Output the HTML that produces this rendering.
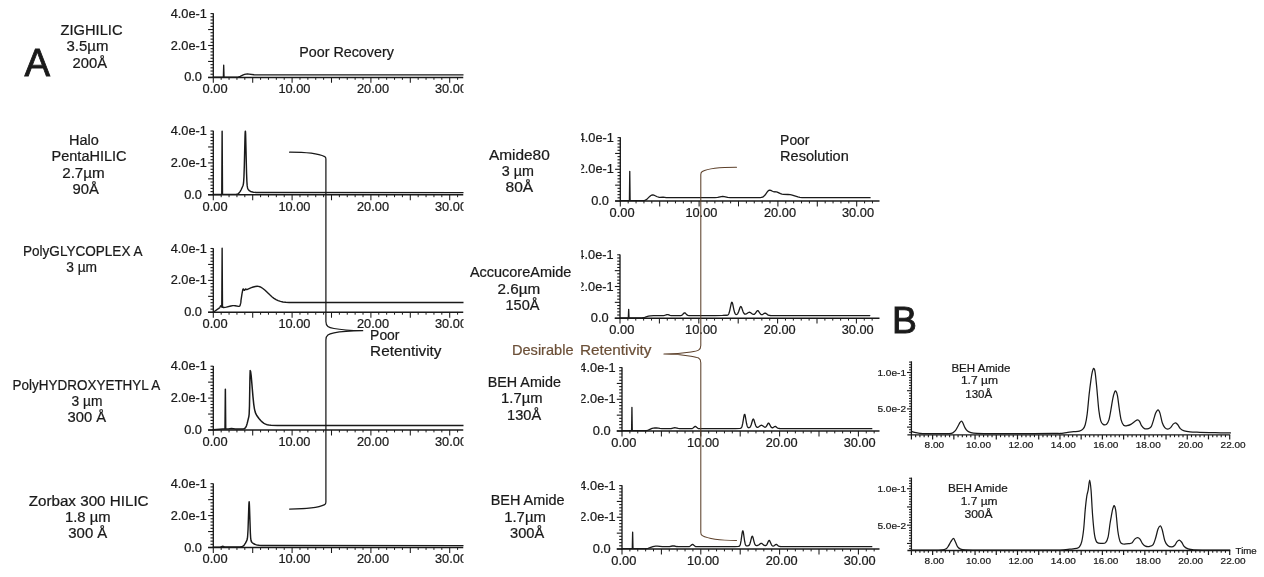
<!DOCTYPE html>
<html><head><meta charset="utf-8"><title>HILIC column comparison</title>
<style>html,body{margin:0;padding:0;background:#fff;}svg{display:block;will-change:transform;}text{font-family:"Liberation Sans",sans-serif;stroke-width:0.22px;}</style></head>
<body>
<svg width="1264" height="577" viewBox="0 0 1264 577" font-family="'Liberation Sans', sans-serif">
<rect width="1264" height="577" fill="#ffffff"/>
<defs><clipPath id="cl"><rect x="0" y="0" width="463.5" height="577"/></clipPath><clipPath id="cm"><rect x="581.3" y="0" width="300" height="577"/></clipPath></defs>
<g clip-path="url(#cl)">
<line x1="213.30" y1="13.30" x2="213.30" y2="77.90" stroke="#1a1a1a" stroke-width="1.35"/>
<line x1="208.10" y1="77.40" x2="463.50" y2="77.40" stroke="#1a1a1a" stroke-width="1.45"/>
<line x1="208.10" y1="77.40" x2="213.30" y2="77.40" stroke="#1a1a1a" stroke-width="1.1"/>
<line x1="210.50" y1="74.21" x2="213.30" y2="74.21" stroke="#1a1a1a" stroke-width="1.1"/>
<line x1="210.50" y1="71.02" x2="213.30" y2="71.02" stroke="#1a1a1a" stroke-width="1.1"/>
<line x1="210.50" y1="67.83" x2="213.30" y2="67.83" stroke="#1a1a1a" stroke-width="1.1"/>
<line x1="210.50" y1="64.64" x2="213.30" y2="64.64" stroke="#1a1a1a" stroke-width="1.1"/>
<line x1="208.10" y1="61.45" x2="213.30" y2="61.45" stroke="#1a1a1a" stroke-width="1.1"/>
<line x1="210.50" y1="58.26" x2="213.30" y2="58.26" stroke="#1a1a1a" stroke-width="1.1"/>
<line x1="210.50" y1="55.07" x2="213.30" y2="55.07" stroke="#1a1a1a" stroke-width="1.1"/>
<line x1="210.50" y1="51.88" x2="213.30" y2="51.88" stroke="#1a1a1a" stroke-width="1.1"/>
<line x1="210.50" y1="48.69" x2="213.30" y2="48.69" stroke="#1a1a1a" stroke-width="1.1"/>
<line x1="208.10" y1="45.50" x2="213.30" y2="45.50" stroke="#1a1a1a" stroke-width="1.1"/>
<line x1="210.50" y1="42.31" x2="213.30" y2="42.31" stroke="#1a1a1a" stroke-width="1.1"/>
<line x1="210.50" y1="39.12" x2="213.30" y2="39.12" stroke="#1a1a1a" stroke-width="1.1"/>
<line x1="210.50" y1="35.93" x2="213.30" y2="35.93" stroke="#1a1a1a" stroke-width="1.1"/>
<line x1="210.50" y1="32.74" x2="213.30" y2="32.74" stroke="#1a1a1a" stroke-width="1.1"/>
<line x1="208.10" y1="29.55" x2="213.30" y2="29.55" stroke="#1a1a1a" stroke-width="1.1"/>
<line x1="210.50" y1="26.36" x2="213.30" y2="26.36" stroke="#1a1a1a" stroke-width="1.1"/>
<line x1="210.50" y1="23.17" x2="213.30" y2="23.17" stroke="#1a1a1a" stroke-width="1.1"/>
<line x1="210.50" y1="19.98" x2="213.30" y2="19.98" stroke="#1a1a1a" stroke-width="1.1"/>
<line x1="210.50" y1="16.79" x2="213.30" y2="16.79" stroke="#1a1a1a" stroke-width="1.1"/>
<line x1="210.50" y1="13.60" x2="213.30" y2="13.60" stroke="#1a1a1a" stroke-width="1.1"/>
<line x1="213.30" y1="77.40" x2="213.30" y2="82.80" stroke="#1a1a1a" stroke-width="1.05"/>
<line x1="221.18" y1="77.40" x2="221.18" y2="79.80" stroke="#1a1a1a" stroke-width="1.0"/>
<line x1="229.06" y1="77.40" x2="229.06" y2="79.80" stroke="#1a1a1a" stroke-width="1.0"/>
<line x1="236.94" y1="77.40" x2="236.94" y2="79.80" stroke="#1a1a1a" stroke-width="1.0"/>
<line x1="244.82" y1="77.40" x2="244.82" y2="79.80" stroke="#1a1a1a" stroke-width="1.0"/>
<line x1="252.70" y1="77.40" x2="252.70" y2="82.80" stroke="#1a1a1a" stroke-width="1.05"/>
<line x1="260.58" y1="77.40" x2="260.58" y2="79.80" stroke="#1a1a1a" stroke-width="1.0"/>
<line x1="268.46" y1="77.40" x2="268.46" y2="79.80" stroke="#1a1a1a" stroke-width="1.0"/>
<line x1="276.34" y1="77.40" x2="276.34" y2="79.80" stroke="#1a1a1a" stroke-width="1.0"/>
<line x1="284.22" y1="77.40" x2="284.22" y2="79.80" stroke="#1a1a1a" stroke-width="1.0"/>
<line x1="292.10" y1="77.40" x2="292.10" y2="82.80" stroke="#1a1a1a" stroke-width="1.05"/>
<line x1="299.98" y1="77.40" x2="299.98" y2="79.80" stroke="#1a1a1a" stroke-width="1.0"/>
<line x1="307.86" y1="77.40" x2="307.86" y2="79.80" stroke="#1a1a1a" stroke-width="1.0"/>
<line x1="315.74" y1="77.40" x2="315.74" y2="79.80" stroke="#1a1a1a" stroke-width="1.0"/>
<line x1="323.62" y1="77.40" x2="323.62" y2="79.80" stroke="#1a1a1a" stroke-width="1.0"/>
<line x1="331.50" y1="77.40" x2="331.50" y2="82.80" stroke="#1a1a1a" stroke-width="1.05"/>
<line x1="339.38" y1="77.40" x2="339.38" y2="79.80" stroke="#1a1a1a" stroke-width="1.0"/>
<line x1="347.26" y1="77.40" x2="347.26" y2="79.80" stroke="#1a1a1a" stroke-width="1.0"/>
<line x1="355.14" y1="77.40" x2="355.14" y2="79.80" stroke="#1a1a1a" stroke-width="1.0"/>
<line x1="363.02" y1="77.40" x2="363.02" y2="79.80" stroke="#1a1a1a" stroke-width="1.0"/>
<line x1="370.90" y1="77.40" x2="370.90" y2="82.80" stroke="#1a1a1a" stroke-width="1.05"/>
<line x1="378.78" y1="77.40" x2="378.78" y2="79.80" stroke="#1a1a1a" stroke-width="1.0"/>
<line x1="386.66" y1="77.40" x2="386.66" y2="79.80" stroke="#1a1a1a" stroke-width="1.0"/>
<line x1="394.54" y1="77.40" x2="394.54" y2="79.80" stroke="#1a1a1a" stroke-width="1.0"/>
<line x1="402.42" y1="77.40" x2="402.42" y2="79.80" stroke="#1a1a1a" stroke-width="1.0"/>
<line x1="410.30" y1="77.40" x2="410.30" y2="82.80" stroke="#1a1a1a" stroke-width="1.05"/>
<line x1="418.18" y1="77.40" x2="418.18" y2="79.80" stroke="#1a1a1a" stroke-width="1.0"/>
<line x1="426.06" y1="77.40" x2="426.06" y2="79.80" stroke="#1a1a1a" stroke-width="1.0"/>
<line x1="433.94" y1="77.40" x2="433.94" y2="79.80" stroke="#1a1a1a" stroke-width="1.0"/>
<line x1="441.82" y1="77.40" x2="441.82" y2="79.80" stroke="#1a1a1a" stroke-width="1.0"/>
<line x1="449.70" y1="77.40" x2="449.70" y2="82.80" stroke="#1a1a1a" stroke-width="1.05"/>
<line x1="457.58" y1="77.40" x2="457.58" y2="79.80" stroke="#1a1a1a" stroke-width="1.0"/>
<text x="184.17" y="81.40" font-size="11.99" fill="#1a1a1a" stroke="#1a1a1a" textLength="17.83" lengthAdjust="spacingAndGlyphs">0.0</text>
<text x="170.69" y="49.50" font-size="11.99" fill="#1a1a1a" stroke="#1a1a1a" textLength="36.21" lengthAdjust="spacingAndGlyphs">2.0e-1</text>
<text x="170.69" y="17.60" font-size="11.99" fill="#1a1a1a" stroke="#1a1a1a" textLength="36.21" lengthAdjust="spacingAndGlyphs">4.0e-1</text>
<text x="202.60" y="93.20" font-size="11.88" fill="#1a1a1a" stroke="#1a1a1a" textLength="24.99" lengthAdjust="spacingAndGlyphs">0.00</text>
<text x="278.41" y="93.20" font-size="11.88" fill="#1a1a1a" stroke="#1a1a1a" textLength="31.99" lengthAdjust="spacingAndGlyphs">10.00</text>
<text x="357.01" y="93.20" font-size="11.88" fill="#1a1a1a" stroke="#1a1a1a" textLength="31.99" lengthAdjust="spacingAndGlyphs">20.00</text>
<text x="435.01" y="93.20" font-size="11.88" fill="#1a1a1a" stroke="#1a1a1a" textLength="31.99" lengthAdjust="spacingAndGlyphs">30.00</text>
</g>
<g clip-path="url(#cl)">
<line x1="213.30" y1="130.70" x2="213.30" y2="195.30" stroke="#1a1a1a" stroke-width="1.35"/>
<line x1="208.10" y1="194.80" x2="463.50" y2="194.80" stroke="#1a1a1a" stroke-width="1.45"/>
<line x1="208.10" y1="194.80" x2="213.30" y2="194.80" stroke="#1a1a1a" stroke-width="1.1"/>
<line x1="210.50" y1="191.61" x2="213.30" y2="191.61" stroke="#1a1a1a" stroke-width="1.1"/>
<line x1="210.50" y1="188.42" x2="213.30" y2="188.42" stroke="#1a1a1a" stroke-width="1.1"/>
<line x1="210.50" y1="185.23" x2="213.30" y2="185.23" stroke="#1a1a1a" stroke-width="1.1"/>
<line x1="210.50" y1="182.04" x2="213.30" y2="182.04" stroke="#1a1a1a" stroke-width="1.1"/>
<line x1="208.10" y1="178.85" x2="213.30" y2="178.85" stroke="#1a1a1a" stroke-width="1.1"/>
<line x1="210.50" y1="175.66" x2="213.30" y2="175.66" stroke="#1a1a1a" stroke-width="1.1"/>
<line x1="210.50" y1="172.47" x2="213.30" y2="172.47" stroke="#1a1a1a" stroke-width="1.1"/>
<line x1="210.50" y1="169.28" x2="213.30" y2="169.28" stroke="#1a1a1a" stroke-width="1.1"/>
<line x1="210.50" y1="166.09" x2="213.30" y2="166.09" stroke="#1a1a1a" stroke-width="1.1"/>
<line x1="208.10" y1="162.90" x2="213.30" y2="162.90" stroke="#1a1a1a" stroke-width="1.1"/>
<line x1="210.50" y1="159.71" x2="213.30" y2="159.71" stroke="#1a1a1a" stroke-width="1.1"/>
<line x1="210.50" y1="156.52" x2="213.30" y2="156.52" stroke="#1a1a1a" stroke-width="1.1"/>
<line x1="210.50" y1="153.33" x2="213.30" y2="153.33" stroke="#1a1a1a" stroke-width="1.1"/>
<line x1="210.50" y1="150.14" x2="213.30" y2="150.14" stroke="#1a1a1a" stroke-width="1.1"/>
<line x1="208.10" y1="146.95" x2="213.30" y2="146.95" stroke="#1a1a1a" stroke-width="1.1"/>
<line x1="210.50" y1="143.76" x2="213.30" y2="143.76" stroke="#1a1a1a" stroke-width="1.1"/>
<line x1="210.50" y1="140.57" x2="213.30" y2="140.57" stroke="#1a1a1a" stroke-width="1.1"/>
<line x1="210.50" y1="137.38" x2="213.30" y2="137.38" stroke="#1a1a1a" stroke-width="1.1"/>
<line x1="210.50" y1="134.19" x2="213.30" y2="134.19" stroke="#1a1a1a" stroke-width="1.1"/>
<line x1="210.50" y1="131.00" x2="213.30" y2="131.00" stroke="#1a1a1a" stroke-width="1.1"/>
<line x1="213.30" y1="194.80" x2="213.30" y2="200.20" stroke="#1a1a1a" stroke-width="1.05"/>
<line x1="221.18" y1="194.80" x2="221.18" y2="197.20" stroke="#1a1a1a" stroke-width="1.0"/>
<line x1="229.06" y1="194.80" x2="229.06" y2="197.20" stroke="#1a1a1a" stroke-width="1.0"/>
<line x1="236.94" y1="194.80" x2="236.94" y2="197.20" stroke="#1a1a1a" stroke-width="1.0"/>
<line x1="244.82" y1="194.80" x2="244.82" y2="197.20" stroke="#1a1a1a" stroke-width="1.0"/>
<line x1="252.70" y1="194.80" x2="252.70" y2="200.20" stroke="#1a1a1a" stroke-width="1.05"/>
<line x1="260.58" y1="194.80" x2="260.58" y2="197.20" stroke="#1a1a1a" stroke-width="1.0"/>
<line x1="268.46" y1="194.80" x2="268.46" y2="197.20" stroke="#1a1a1a" stroke-width="1.0"/>
<line x1="276.34" y1="194.80" x2="276.34" y2="197.20" stroke="#1a1a1a" stroke-width="1.0"/>
<line x1="284.22" y1="194.80" x2="284.22" y2="197.20" stroke="#1a1a1a" stroke-width="1.0"/>
<line x1="292.10" y1="194.80" x2="292.10" y2="200.20" stroke="#1a1a1a" stroke-width="1.05"/>
<line x1="299.98" y1="194.80" x2="299.98" y2="197.20" stroke="#1a1a1a" stroke-width="1.0"/>
<line x1="307.86" y1="194.80" x2="307.86" y2="197.20" stroke="#1a1a1a" stroke-width="1.0"/>
<line x1="315.74" y1="194.80" x2="315.74" y2="197.20" stroke="#1a1a1a" stroke-width="1.0"/>
<line x1="323.62" y1="194.80" x2="323.62" y2="197.20" stroke="#1a1a1a" stroke-width="1.0"/>
<line x1="331.50" y1="194.80" x2="331.50" y2="200.20" stroke="#1a1a1a" stroke-width="1.05"/>
<line x1="339.38" y1="194.80" x2="339.38" y2="197.20" stroke="#1a1a1a" stroke-width="1.0"/>
<line x1="347.26" y1="194.80" x2="347.26" y2="197.20" stroke="#1a1a1a" stroke-width="1.0"/>
<line x1="355.14" y1="194.80" x2="355.14" y2="197.20" stroke="#1a1a1a" stroke-width="1.0"/>
<line x1="363.02" y1="194.80" x2="363.02" y2="197.20" stroke="#1a1a1a" stroke-width="1.0"/>
<line x1="370.90" y1="194.80" x2="370.90" y2="200.20" stroke="#1a1a1a" stroke-width="1.05"/>
<line x1="378.78" y1="194.80" x2="378.78" y2="197.20" stroke="#1a1a1a" stroke-width="1.0"/>
<line x1="386.66" y1="194.80" x2="386.66" y2="197.20" stroke="#1a1a1a" stroke-width="1.0"/>
<line x1="394.54" y1="194.80" x2="394.54" y2="197.20" stroke="#1a1a1a" stroke-width="1.0"/>
<line x1="402.42" y1="194.80" x2="402.42" y2="197.20" stroke="#1a1a1a" stroke-width="1.0"/>
<line x1="410.30" y1="194.80" x2="410.30" y2="200.20" stroke="#1a1a1a" stroke-width="1.05"/>
<line x1="418.18" y1="194.80" x2="418.18" y2="197.20" stroke="#1a1a1a" stroke-width="1.0"/>
<line x1="426.06" y1="194.80" x2="426.06" y2="197.20" stroke="#1a1a1a" stroke-width="1.0"/>
<line x1="433.94" y1="194.80" x2="433.94" y2="197.20" stroke="#1a1a1a" stroke-width="1.0"/>
<line x1="441.82" y1="194.80" x2="441.82" y2="197.20" stroke="#1a1a1a" stroke-width="1.0"/>
<line x1="449.70" y1="194.80" x2="449.70" y2="200.20" stroke="#1a1a1a" stroke-width="1.05"/>
<line x1="457.58" y1="194.80" x2="457.58" y2="197.20" stroke="#1a1a1a" stroke-width="1.0"/>
<text x="184.17" y="198.80" font-size="11.99" fill="#1a1a1a" stroke="#1a1a1a" textLength="17.83" lengthAdjust="spacingAndGlyphs">0.0</text>
<text x="170.69" y="166.90" font-size="11.99" fill="#1a1a1a" stroke="#1a1a1a" textLength="36.21" lengthAdjust="spacingAndGlyphs">2.0e-1</text>
<text x="170.69" y="135.00" font-size="11.99" fill="#1a1a1a" stroke="#1a1a1a" textLength="36.21" lengthAdjust="spacingAndGlyphs">4.0e-1</text>
<text x="202.60" y="210.60" font-size="11.88" fill="#1a1a1a" stroke="#1a1a1a" textLength="24.99" lengthAdjust="spacingAndGlyphs">0.00</text>
<text x="278.41" y="210.60" font-size="11.88" fill="#1a1a1a" stroke="#1a1a1a" textLength="31.99" lengthAdjust="spacingAndGlyphs">10.00</text>
<text x="357.01" y="210.60" font-size="11.88" fill="#1a1a1a" stroke="#1a1a1a" textLength="31.99" lengthAdjust="spacingAndGlyphs">20.00</text>
<text x="435.01" y="210.60" font-size="11.88" fill="#1a1a1a" stroke="#1a1a1a" textLength="31.99" lengthAdjust="spacingAndGlyphs">30.00</text>
</g>
<g clip-path="url(#cl)">
<line x1="213.30" y1="248.20" x2="213.30" y2="312.80" stroke="#1a1a1a" stroke-width="1.35"/>
<line x1="208.10" y1="312.30" x2="463.50" y2="312.30" stroke="#1a1a1a" stroke-width="1.45"/>
<line x1="208.10" y1="312.30" x2="213.30" y2="312.30" stroke="#1a1a1a" stroke-width="1.1"/>
<line x1="210.50" y1="309.11" x2="213.30" y2="309.11" stroke="#1a1a1a" stroke-width="1.1"/>
<line x1="210.50" y1="305.92" x2="213.30" y2="305.92" stroke="#1a1a1a" stroke-width="1.1"/>
<line x1="210.50" y1="302.73" x2="213.30" y2="302.73" stroke="#1a1a1a" stroke-width="1.1"/>
<line x1="210.50" y1="299.54" x2="213.30" y2="299.54" stroke="#1a1a1a" stroke-width="1.1"/>
<line x1="208.10" y1="296.35" x2="213.30" y2="296.35" stroke="#1a1a1a" stroke-width="1.1"/>
<line x1="210.50" y1="293.16" x2="213.30" y2="293.16" stroke="#1a1a1a" stroke-width="1.1"/>
<line x1="210.50" y1="289.97" x2="213.30" y2="289.97" stroke="#1a1a1a" stroke-width="1.1"/>
<line x1="210.50" y1="286.78" x2="213.30" y2="286.78" stroke="#1a1a1a" stroke-width="1.1"/>
<line x1="210.50" y1="283.59" x2="213.30" y2="283.59" stroke="#1a1a1a" stroke-width="1.1"/>
<line x1="208.10" y1="280.40" x2="213.30" y2="280.40" stroke="#1a1a1a" stroke-width="1.1"/>
<line x1="210.50" y1="277.21" x2="213.30" y2="277.21" stroke="#1a1a1a" stroke-width="1.1"/>
<line x1="210.50" y1="274.02" x2="213.30" y2="274.02" stroke="#1a1a1a" stroke-width="1.1"/>
<line x1="210.50" y1="270.83" x2="213.30" y2="270.83" stroke="#1a1a1a" stroke-width="1.1"/>
<line x1="210.50" y1="267.64" x2="213.30" y2="267.64" stroke="#1a1a1a" stroke-width="1.1"/>
<line x1="208.10" y1="264.45" x2="213.30" y2="264.45" stroke="#1a1a1a" stroke-width="1.1"/>
<line x1="210.50" y1="261.26" x2="213.30" y2="261.26" stroke="#1a1a1a" stroke-width="1.1"/>
<line x1="210.50" y1="258.07" x2="213.30" y2="258.07" stroke="#1a1a1a" stroke-width="1.1"/>
<line x1="210.50" y1="254.88" x2="213.30" y2="254.88" stroke="#1a1a1a" stroke-width="1.1"/>
<line x1="210.50" y1="251.69" x2="213.30" y2="251.69" stroke="#1a1a1a" stroke-width="1.1"/>
<line x1="210.50" y1="248.50" x2="213.30" y2="248.50" stroke="#1a1a1a" stroke-width="1.1"/>
<line x1="213.30" y1="312.30" x2="213.30" y2="317.70" stroke="#1a1a1a" stroke-width="1.05"/>
<line x1="221.18" y1="312.30" x2="221.18" y2="314.70" stroke="#1a1a1a" stroke-width="1.0"/>
<line x1="229.06" y1="312.30" x2="229.06" y2="314.70" stroke="#1a1a1a" stroke-width="1.0"/>
<line x1="236.94" y1="312.30" x2="236.94" y2="314.70" stroke="#1a1a1a" stroke-width="1.0"/>
<line x1="244.82" y1="312.30" x2="244.82" y2="314.70" stroke="#1a1a1a" stroke-width="1.0"/>
<line x1="252.70" y1="312.30" x2="252.70" y2="317.70" stroke="#1a1a1a" stroke-width="1.05"/>
<line x1="260.58" y1="312.30" x2="260.58" y2="314.70" stroke="#1a1a1a" stroke-width="1.0"/>
<line x1="268.46" y1="312.30" x2="268.46" y2="314.70" stroke="#1a1a1a" stroke-width="1.0"/>
<line x1="276.34" y1="312.30" x2="276.34" y2="314.70" stroke="#1a1a1a" stroke-width="1.0"/>
<line x1="284.22" y1="312.30" x2="284.22" y2="314.70" stroke="#1a1a1a" stroke-width="1.0"/>
<line x1="292.10" y1="312.30" x2="292.10" y2="317.70" stroke="#1a1a1a" stroke-width="1.05"/>
<line x1="299.98" y1="312.30" x2="299.98" y2="314.70" stroke="#1a1a1a" stroke-width="1.0"/>
<line x1="307.86" y1="312.30" x2="307.86" y2="314.70" stroke="#1a1a1a" stroke-width="1.0"/>
<line x1="315.74" y1="312.30" x2="315.74" y2="314.70" stroke="#1a1a1a" stroke-width="1.0"/>
<line x1="323.62" y1="312.30" x2="323.62" y2="314.70" stroke="#1a1a1a" stroke-width="1.0"/>
<line x1="331.50" y1="312.30" x2="331.50" y2="317.70" stroke="#1a1a1a" stroke-width="1.05"/>
<line x1="339.38" y1="312.30" x2="339.38" y2="314.70" stroke="#1a1a1a" stroke-width="1.0"/>
<line x1="347.26" y1="312.30" x2="347.26" y2="314.70" stroke="#1a1a1a" stroke-width="1.0"/>
<line x1="355.14" y1="312.30" x2="355.14" y2="314.70" stroke="#1a1a1a" stroke-width="1.0"/>
<line x1="363.02" y1="312.30" x2="363.02" y2="314.70" stroke="#1a1a1a" stroke-width="1.0"/>
<line x1="370.90" y1="312.30" x2="370.90" y2="317.70" stroke="#1a1a1a" stroke-width="1.05"/>
<line x1="378.78" y1="312.30" x2="378.78" y2="314.70" stroke="#1a1a1a" stroke-width="1.0"/>
<line x1="386.66" y1="312.30" x2="386.66" y2="314.70" stroke="#1a1a1a" stroke-width="1.0"/>
<line x1="394.54" y1="312.30" x2="394.54" y2="314.70" stroke="#1a1a1a" stroke-width="1.0"/>
<line x1="402.42" y1="312.30" x2="402.42" y2="314.70" stroke="#1a1a1a" stroke-width="1.0"/>
<line x1="410.30" y1="312.30" x2="410.30" y2="317.70" stroke="#1a1a1a" stroke-width="1.05"/>
<line x1="418.18" y1="312.30" x2="418.18" y2="314.70" stroke="#1a1a1a" stroke-width="1.0"/>
<line x1="426.06" y1="312.30" x2="426.06" y2="314.70" stroke="#1a1a1a" stroke-width="1.0"/>
<line x1="433.94" y1="312.30" x2="433.94" y2="314.70" stroke="#1a1a1a" stroke-width="1.0"/>
<line x1="441.82" y1="312.30" x2="441.82" y2="314.70" stroke="#1a1a1a" stroke-width="1.0"/>
<line x1="449.70" y1="312.30" x2="449.70" y2="317.70" stroke="#1a1a1a" stroke-width="1.05"/>
<line x1="457.58" y1="312.30" x2="457.58" y2="314.70" stroke="#1a1a1a" stroke-width="1.0"/>
<text x="184.17" y="316.30" font-size="11.99" fill="#1a1a1a" stroke="#1a1a1a" textLength="17.83" lengthAdjust="spacingAndGlyphs">0.0</text>
<text x="170.69" y="284.40" font-size="11.99" fill="#1a1a1a" stroke="#1a1a1a" textLength="36.21" lengthAdjust="spacingAndGlyphs">2.0e-1</text>
<text x="170.69" y="252.50" font-size="11.99" fill="#1a1a1a" stroke="#1a1a1a" textLength="36.21" lengthAdjust="spacingAndGlyphs">4.0e-1</text>
<text x="202.60" y="328.10" font-size="11.88" fill="#1a1a1a" stroke="#1a1a1a" textLength="24.99" lengthAdjust="spacingAndGlyphs">0.00</text>
<text x="278.41" y="328.10" font-size="11.88" fill="#1a1a1a" stroke="#1a1a1a" textLength="31.99" lengthAdjust="spacingAndGlyphs">10.00</text>
<text x="357.01" y="328.10" font-size="11.88" fill="#1a1a1a" stroke="#1a1a1a" textLength="31.99" lengthAdjust="spacingAndGlyphs">20.00</text>
<text x="435.01" y="328.10" font-size="11.88" fill="#1a1a1a" stroke="#1a1a1a" textLength="31.99" lengthAdjust="spacingAndGlyphs">30.00</text>
</g>
<g clip-path="url(#cl)">
<line x1="213.30" y1="365.90" x2="213.30" y2="430.50" stroke="#1a1a1a" stroke-width="1.35"/>
<line x1="208.10" y1="430.00" x2="463.50" y2="430.00" stroke="#1a1a1a" stroke-width="1.45"/>
<line x1="208.10" y1="430.00" x2="213.30" y2="430.00" stroke="#1a1a1a" stroke-width="1.1"/>
<line x1="210.50" y1="426.81" x2="213.30" y2="426.81" stroke="#1a1a1a" stroke-width="1.1"/>
<line x1="210.50" y1="423.62" x2="213.30" y2="423.62" stroke="#1a1a1a" stroke-width="1.1"/>
<line x1="210.50" y1="420.43" x2="213.30" y2="420.43" stroke="#1a1a1a" stroke-width="1.1"/>
<line x1="210.50" y1="417.24" x2="213.30" y2="417.24" stroke="#1a1a1a" stroke-width="1.1"/>
<line x1="208.10" y1="414.05" x2="213.30" y2="414.05" stroke="#1a1a1a" stroke-width="1.1"/>
<line x1="210.50" y1="410.86" x2="213.30" y2="410.86" stroke="#1a1a1a" stroke-width="1.1"/>
<line x1="210.50" y1="407.67" x2="213.30" y2="407.67" stroke="#1a1a1a" stroke-width="1.1"/>
<line x1="210.50" y1="404.48" x2="213.30" y2="404.48" stroke="#1a1a1a" stroke-width="1.1"/>
<line x1="210.50" y1="401.29" x2="213.30" y2="401.29" stroke="#1a1a1a" stroke-width="1.1"/>
<line x1="208.10" y1="398.10" x2="213.30" y2="398.10" stroke="#1a1a1a" stroke-width="1.1"/>
<line x1="210.50" y1="394.91" x2="213.30" y2="394.91" stroke="#1a1a1a" stroke-width="1.1"/>
<line x1="210.50" y1="391.72" x2="213.30" y2="391.72" stroke="#1a1a1a" stroke-width="1.1"/>
<line x1="210.50" y1="388.53" x2="213.30" y2="388.53" stroke="#1a1a1a" stroke-width="1.1"/>
<line x1="210.50" y1="385.34" x2="213.30" y2="385.34" stroke="#1a1a1a" stroke-width="1.1"/>
<line x1="208.10" y1="382.15" x2="213.30" y2="382.15" stroke="#1a1a1a" stroke-width="1.1"/>
<line x1="210.50" y1="378.96" x2="213.30" y2="378.96" stroke="#1a1a1a" stroke-width="1.1"/>
<line x1="210.50" y1="375.77" x2="213.30" y2="375.77" stroke="#1a1a1a" stroke-width="1.1"/>
<line x1="210.50" y1="372.58" x2="213.30" y2="372.58" stroke="#1a1a1a" stroke-width="1.1"/>
<line x1="210.50" y1="369.39" x2="213.30" y2="369.39" stroke="#1a1a1a" stroke-width="1.1"/>
<line x1="210.50" y1="366.20" x2="213.30" y2="366.20" stroke="#1a1a1a" stroke-width="1.1"/>
<line x1="213.30" y1="430.00" x2="213.30" y2="435.40" stroke="#1a1a1a" stroke-width="1.05"/>
<line x1="221.18" y1="430.00" x2="221.18" y2="432.40" stroke="#1a1a1a" stroke-width="1.0"/>
<line x1="229.06" y1="430.00" x2="229.06" y2="432.40" stroke="#1a1a1a" stroke-width="1.0"/>
<line x1="236.94" y1="430.00" x2="236.94" y2="432.40" stroke="#1a1a1a" stroke-width="1.0"/>
<line x1="244.82" y1="430.00" x2="244.82" y2="432.40" stroke="#1a1a1a" stroke-width="1.0"/>
<line x1="252.70" y1="430.00" x2="252.70" y2="435.40" stroke="#1a1a1a" stroke-width="1.05"/>
<line x1="260.58" y1="430.00" x2="260.58" y2="432.40" stroke="#1a1a1a" stroke-width="1.0"/>
<line x1="268.46" y1="430.00" x2="268.46" y2="432.40" stroke="#1a1a1a" stroke-width="1.0"/>
<line x1="276.34" y1="430.00" x2="276.34" y2="432.40" stroke="#1a1a1a" stroke-width="1.0"/>
<line x1="284.22" y1="430.00" x2="284.22" y2="432.40" stroke="#1a1a1a" stroke-width="1.0"/>
<line x1="292.10" y1="430.00" x2="292.10" y2="435.40" stroke="#1a1a1a" stroke-width="1.05"/>
<line x1="299.98" y1="430.00" x2="299.98" y2="432.40" stroke="#1a1a1a" stroke-width="1.0"/>
<line x1="307.86" y1="430.00" x2="307.86" y2="432.40" stroke="#1a1a1a" stroke-width="1.0"/>
<line x1="315.74" y1="430.00" x2="315.74" y2="432.40" stroke="#1a1a1a" stroke-width="1.0"/>
<line x1="323.62" y1="430.00" x2="323.62" y2="432.40" stroke="#1a1a1a" stroke-width="1.0"/>
<line x1="331.50" y1="430.00" x2="331.50" y2="435.40" stroke="#1a1a1a" stroke-width="1.05"/>
<line x1="339.38" y1="430.00" x2="339.38" y2="432.40" stroke="#1a1a1a" stroke-width="1.0"/>
<line x1="347.26" y1="430.00" x2="347.26" y2="432.40" stroke="#1a1a1a" stroke-width="1.0"/>
<line x1="355.14" y1="430.00" x2="355.14" y2="432.40" stroke="#1a1a1a" stroke-width="1.0"/>
<line x1="363.02" y1="430.00" x2="363.02" y2="432.40" stroke="#1a1a1a" stroke-width="1.0"/>
<line x1="370.90" y1="430.00" x2="370.90" y2="435.40" stroke="#1a1a1a" stroke-width="1.05"/>
<line x1="378.78" y1="430.00" x2="378.78" y2="432.40" stroke="#1a1a1a" stroke-width="1.0"/>
<line x1="386.66" y1="430.00" x2="386.66" y2="432.40" stroke="#1a1a1a" stroke-width="1.0"/>
<line x1="394.54" y1="430.00" x2="394.54" y2="432.40" stroke="#1a1a1a" stroke-width="1.0"/>
<line x1="402.42" y1="430.00" x2="402.42" y2="432.40" stroke="#1a1a1a" stroke-width="1.0"/>
<line x1="410.30" y1="430.00" x2="410.30" y2="435.40" stroke="#1a1a1a" stroke-width="1.05"/>
<line x1="418.18" y1="430.00" x2="418.18" y2="432.40" stroke="#1a1a1a" stroke-width="1.0"/>
<line x1="426.06" y1="430.00" x2="426.06" y2="432.40" stroke="#1a1a1a" stroke-width="1.0"/>
<line x1="433.94" y1="430.00" x2="433.94" y2="432.40" stroke="#1a1a1a" stroke-width="1.0"/>
<line x1="441.82" y1="430.00" x2="441.82" y2="432.40" stroke="#1a1a1a" stroke-width="1.0"/>
<line x1="449.70" y1="430.00" x2="449.70" y2="435.40" stroke="#1a1a1a" stroke-width="1.05"/>
<line x1="457.58" y1="430.00" x2="457.58" y2="432.40" stroke="#1a1a1a" stroke-width="1.0"/>
<text x="184.17" y="434.00" font-size="11.99" fill="#1a1a1a" stroke="#1a1a1a" textLength="17.83" lengthAdjust="spacingAndGlyphs">0.0</text>
<text x="170.69" y="402.10" font-size="11.99" fill="#1a1a1a" stroke="#1a1a1a" textLength="36.21" lengthAdjust="spacingAndGlyphs">2.0e-1</text>
<text x="170.69" y="370.20" font-size="11.99" fill="#1a1a1a" stroke="#1a1a1a" textLength="36.21" lengthAdjust="spacingAndGlyphs">4.0e-1</text>
<text x="202.60" y="445.80" font-size="11.88" fill="#1a1a1a" stroke="#1a1a1a" textLength="24.99" lengthAdjust="spacingAndGlyphs">0.00</text>
<text x="278.41" y="445.80" font-size="11.88" fill="#1a1a1a" stroke="#1a1a1a" textLength="31.99" lengthAdjust="spacingAndGlyphs">10.00</text>
<text x="357.01" y="445.80" font-size="11.88" fill="#1a1a1a" stroke="#1a1a1a" textLength="31.99" lengthAdjust="spacingAndGlyphs">20.00</text>
<text x="435.01" y="445.80" font-size="11.88" fill="#1a1a1a" stroke="#1a1a1a" textLength="31.99" lengthAdjust="spacingAndGlyphs">30.00</text>
</g>
<g clip-path="url(#cl)">
<line x1="213.30" y1="483.40" x2="213.30" y2="548.00" stroke="#1a1a1a" stroke-width="1.35"/>
<line x1="208.10" y1="547.50" x2="463.50" y2="547.50" stroke="#1a1a1a" stroke-width="1.45"/>
<line x1="208.10" y1="547.50" x2="213.30" y2="547.50" stroke="#1a1a1a" stroke-width="1.1"/>
<line x1="210.50" y1="544.31" x2="213.30" y2="544.31" stroke="#1a1a1a" stroke-width="1.1"/>
<line x1="210.50" y1="541.12" x2="213.30" y2="541.12" stroke="#1a1a1a" stroke-width="1.1"/>
<line x1="210.50" y1="537.93" x2="213.30" y2="537.93" stroke="#1a1a1a" stroke-width="1.1"/>
<line x1="210.50" y1="534.74" x2="213.30" y2="534.74" stroke="#1a1a1a" stroke-width="1.1"/>
<line x1="208.10" y1="531.55" x2="213.30" y2="531.55" stroke="#1a1a1a" stroke-width="1.1"/>
<line x1="210.50" y1="528.36" x2="213.30" y2="528.36" stroke="#1a1a1a" stroke-width="1.1"/>
<line x1="210.50" y1="525.17" x2="213.30" y2="525.17" stroke="#1a1a1a" stroke-width="1.1"/>
<line x1="210.50" y1="521.98" x2="213.30" y2="521.98" stroke="#1a1a1a" stroke-width="1.1"/>
<line x1="210.50" y1="518.79" x2="213.30" y2="518.79" stroke="#1a1a1a" stroke-width="1.1"/>
<line x1="208.10" y1="515.60" x2="213.30" y2="515.60" stroke="#1a1a1a" stroke-width="1.1"/>
<line x1="210.50" y1="512.41" x2="213.30" y2="512.41" stroke="#1a1a1a" stroke-width="1.1"/>
<line x1="210.50" y1="509.22" x2="213.30" y2="509.22" stroke="#1a1a1a" stroke-width="1.1"/>
<line x1="210.50" y1="506.03" x2="213.30" y2="506.03" stroke="#1a1a1a" stroke-width="1.1"/>
<line x1="210.50" y1="502.84" x2="213.30" y2="502.84" stroke="#1a1a1a" stroke-width="1.1"/>
<line x1="208.10" y1="499.65" x2="213.30" y2="499.65" stroke="#1a1a1a" stroke-width="1.1"/>
<line x1="210.50" y1="496.46" x2="213.30" y2="496.46" stroke="#1a1a1a" stroke-width="1.1"/>
<line x1="210.50" y1="493.27" x2="213.30" y2="493.27" stroke="#1a1a1a" stroke-width="1.1"/>
<line x1="210.50" y1="490.08" x2="213.30" y2="490.08" stroke="#1a1a1a" stroke-width="1.1"/>
<line x1="210.50" y1="486.89" x2="213.30" y2="486.89" stroke="#1a1a1a" stroke-width="1.1"/>
<line x1="210.50" y1="483.70" x2="213.30" y2="483.70" stroke="#1a1a1a" stroke-width="1.1"/>
<line x1="213.30" y1="547.50" x2="213.30" y2="552.90" stroke="#1a1a1a" stroke-width="1.05"/>
<line x1="221.18" y1="547.50" x2="221.18" y2="549.90" stroke="#1a1a1a" stroke-width="1.0"/>
<line x1="229.06" y1="547.50" x2="229.06" y2="549.90" stroke="#1a1a1a" stroke-width="1.0"/>
<line x1="236.94" y1="547.50" x2="236.94" y2="549.90" stroke="#1a1a1a" stroke-width="1.0"/>
<line x1="244.82" y1="547.50" x2="244.82" y2="549.90" stroke="#1a1a1a" stroke-width="1.0"/>
<line x1="252.70" y1="547.50" x2="252.70" y2="552.90" stroke="#1a1a1a" stroke-width="1.05"/>
<line x1="260.58" y1="547.50" x2="260.58" y2="549.90" stroke="#1a1a1a" stroke-width="1.0"/>
<line x1="268.46" y1="547.50" x2="268.46" y2="549.90" stroke="#1a1a1a" stroke-width="1.0"/>
<line x1="276.34" y1="547.50" x2="276.34" y2="549.90" stroke="#1a1a1a" stroke-width="1.0"/>
<line x1="284.22" y1="547.50" x2="284.22" y2="549.90" stroke="#1a1a1a" stroke-width="1.0"/>
<line x1="292.10" y1="547.50" x2="292.10" y2="552.90" stroke="#1a1a1a" stroke-width="1.05"/>
<line x1="299.98" y1="547.50" x2="299.98" y2="549.90" stroke="#1a1a1a" stroke-width="1.0"/>
<line x1="307.86" y1="547.50" x2="307.86" y2="549.90" stroke="#1a1a1a" stroke-width="1.0"/>
<line x1="315.74" y1="547.50" x2="315.74" y2="549.90" stroke="#1a1a1a" stroke-width="1.0"/>
<line x1="323.62" y1="547.50" x2="323.62" y2="549.90" stroke="#1a1a1a" stroke-width="1.0"/>
<line x1="331.50" y1="547.50" x2="331.50" y2="552.90" stroke="#1a1a1a" stroke-width="1.05"/>
<line x1="339.38" y1="547.50" x2="339.38" y2="549.90" stroke="#1a1a1a" stroke-width="1.0"/>
<line x1="347.26" y1="547.50" x2="347.26" y2="549.90" stroke="#1a1a1a" stroke-width="1.0"/>
<line x1="355.14" y1="547.50" x2="355.14" y2="549.90" stroke="#1a1a1a" stroke-width="1.0"/>
<line x1="363.02" y1="547.50" x2="363.02" y2="549.90" stroke="#1a1a1a" stroke-width="1.0"/>
<line x1="370.90" y1="547.50" x2="370.90" y2="552.90" stroke="#1a1a1a" stroke-width="1.05"/>
<line x1="378.78" y1="547.50" x2="378.78" y2="549.90" stroke="#1a1a1a" stroke-width="1.0"/>
<line x1="386.66" y1="547.50" x2="386.66" y2="549.90" stroke="#1a1a1a" stroke-width="1.0"/>
<line x1="394.54" y1="547.50" x2="394.54" y2="549.90" stroke="#1a1a1a" stroke-width="1.0"/>
<line x1="402.42" y1="547.50" x2="402.42" y2="549.90" stroke="#1a1a1a" stroke-width="1.0"/>
<line x1="410.30" y1="547.50" x2="410.30" y2="552.90" stroke="#1a1a1a" stroke-width="1.05"/>
<line x1="418.18" y1="547.50" x2="418.18" y2="549.90" stroke="#1a1a1a" stroke-width="1.0"/>
<line x1="426.06" y1="547.50" x2="426.06" y2="549.90" stroke="#1a1a1a" stroke-width="1.0"/>
<line x1="433.94" y1="547.50" x2="433.94" y2="549.90" stroke="#1a1a1a" stroke-width="1.0"/>
<line x1="441.82" y1="547.50" x2="441.82" y2="549.90" stroke="#1a1a1a" stroke-width="1.0"/>
<line x1="449.70" y1="547.50" x2="449.70" y2="552.90" stroke="#1a1a1a" stroke-width="1.05"/>
<line x1="457.58" y1="547.50" x2="457.58" y2="549.90" stroke="#1a1a1a" stroke-width="1.0"/>
<text x="184.17" y="551.50" font-size="11.99" fill="#1a1a1a" stroke="#1a1a1a" textLength="17.83" lengthAdjust="spacingAndGlyphs">0.0</text>
<text x="170.69" y="519.60" font-size="11.99" fill="#1a1a1a" stroke="#1a1a1a" textLength="36.21" lengthAdjust="spacingAndGlyphs">2.0e-1</text>
<text x="170.69" y="487.70" font-size="11.99" fill="#1a1a1a" stroke="#1a1a1a" textLength="36.21" lengthAdjust="spacingAndGlyphs">4.0e-1</text>
<text x="202.60" y="563.30" font-size="11.88" fill="#1a1a1a" stroke="#1a1a1a" textLength="24.99" lengthAdjust="spacingAndGlyphs">0.00</text>
<text x="278.41" y="563.30" font-size="11.88" fill="#1a1a1a" stroke="#1a1a1a" textLength="31.99" lengthAdjust="spacingAndGlyphs">10.00</text>
<text x="357.01" y="563.30" font-size="11.88" fill="#1a1a1a" stroke="#1a1a1a" textLength="31.99" lengthAdjust="spacingAndGlyphs">20.00</text>
<text x="435.01" y="563.30" font-size="11.88" fill="#1a1a1a" stroke="#1a1a1a" textLength="31.99" lengthAdjust="spacingAndGlyphs">30.00</text>
</g>
<path d="M213.30,77.10 L223.35,77.10 L223.70,65.10 L224.06,77.10 L234.81,77.08 L238.12,76.89 L239.23,76.69 L240.25,76.36 L243.24,74.91 L244.58,74.39 L246.00,74.05 L247.42,73.94 L249.08,74.04 L254.04,74.75 L258.77,74.90 L463.88,74.90" fill="none" stroke="#1a1a1a" stroke-width="1.3" stroke-linejoin="round" stroke-linecap="round" clip-path="url(#cl)"/>
<path d="M213.30,194.40 L221.77,194.40 L222.13,131.20 L222.48,194.40 L234.81,194.37 L236.47,194.24 L237.65,193.92 L238.28,193.59 L238.91,193.10 L240.09,191.65 L241.27,189.49 L242.93,185.80 L243.32,184.35 L243.56,182.71 L243.95,176.87 L244.35,164.73 L244.98,137.73 L245.14,133.12 L245.29,131.20 L245.45,131.20 L245.61,133.80 L246.55,173.09 L246.87,181.32 L247.18,185.66 L247.58,187.98 L247.89,188.82 L248.29,189.49 L249.00,190.36 L249.71,190.98 L250.57,191.49 L251.52,191.83 L253.41,192.18 L256.17,192.41 L265.70,192.59 L463.88,192.60" fill="none" stroke="#1a1a1a" stroke-width="1.45" stroke-linejoin="round" stroke-linecap="round" clip-path="url(#cl)"/>
<path d="M213.30,312.30 L219.45,307.94 L219.92,307.35 L220.39,306.24 L220.71,305.82 L220.86,305.82 L221.02,305.98 L221.77,307.13 L222.13,248.30 L222.48,307.30 L223.47,307.30 L223.54,307.59 L226.30,307.17 L230.95,305.96 L232.84,305.64 L233.95,305.60 L235.13,305.69 L238.59,306.37 L239.07,306.35 L239.46,306.19 L239.78,305.88 L240.09,305.32 L240.64,303.40 L240.88,302.16 L240.96,300.62 L241.98,293.89 L242.69,290.02 L243.09,288.87 L243.32,288.86 L244.03,290.14 L244.43,290.38 L244.82,290.11 L245.37,289.17 L245.61,288.94 L245.84,289.00 L246.47,289.59 L246.87,289.62 L251.36,287.71 L253.25,287.01 L255.30,286.49 L257.19,286.30 L258.45,286.38 L259.79,286.73 L261.13,287.34 L262.55,288.23 L265.07,290.30 L269.80,294.84 L271.85,296.68 L273.98,298.33 L276.02,299.62 L278.15,300.65 L280.44,301.43 L282.96,301.98 L285.80,302.31 L289.11,302.47 L293.83,302.52 L463.88,302.50" fill="none" stroke="#1a1a1a" stroke-width="1.4" stroke-linejoin="round" stroke-linecap="round" clip-path="url(#cl)"/>
<path d="M213.30,429.70 L222.76,429.00 L225.00,429.00 L225.36,389.20 L225.71,429.00 L228.27,428.93 L231.42,428.50 L235.29,428.98 L243.01,428.95 L243.87,428.81 L244.58,428.53 L245.14,428.10 L245.69,427.38 L246.47,425.70 L247.26,423.13 L248.84,416.56 L249.15,414.16 L249.47,406.22 L249.94,377.84 L250.18,370.60 L250.41,370.89 L250.65,371.75 L251.20,375.75 L252.94,396.39 L253.72,404.10 L254.43,408.84 L255.22,412.11 L255.93,413.95 L256.96,415.77 L258.93,418.48 L260.90,420.77 L262.39,422.17 L263.97,423.30 L265.54,424.10 L267.28,424.68 L269.01,425.02 L271.06,425.24 L277.44,425.39 L463.88,425.40" fill="none" stroke="#1a1a1a" stroke-width="1.5" stroke-linejoin="round" stroke-linecap="round" clip-path="url(#cl)"/>
<path d="M213.30,547.10 L220.31,547.07 L221.10,546.93 L222.28,546.39 L222.76,546.30 L223.23,546.39 L224.49,546.95 L225.44,547.09 L240.01,547.03 L241.43,546.84 L242.46,546.49 L243.40,545.88 L244.27,544.98 L245.45,543.16 L246.87,540.35 L247.26,539.07 L247.58,536.97 L248.05,529.30 L248.84,505.69 L249.00,502.84 L249.15,501.82 L249.31,503.18 L249.47,506.32 L250.34,532.63 L250.65,537.76 L250.97,540.25 L251.20,541.16 L251.52,541.81 L252.07,542.46 L252.86,543.15 L253.72,543.74 L254.75,544.25 L255.85,544.65 L257.11,544.96 L259.16,545.27 L261.68,545.45 L270.27,545.59 L463.88,545.60" fill="none" stroke="#1a1a1a" stroke-width="1.45" stroke-linejoin="round" stroke-linecap="round" clip-path="url(#cl)"/>
<path d="M289.6,152.2 C302,152.2 318,153.5 324.7,156.6 Q325.9,157 325.9,159 L325.9,321.5 C325.9,326.3 328.5,327.4 334,328.5 C341,329.9 349,330.5 362.7,330.7 C349,330.9 341,331.5 334,332.9 C328.5,334 325.9,335.1 325.9,339.9 L325.9,502 Q325.9,504.2 324.7,504.6 C318,507.8 302,509 289.6,509" fill="none" stroke="#1a1a1a" stroke-width="1.25" stroke-linejoin="round" stroke-linecap="round"/>
<line x1="620.30" y1="137.30" x2="620.30" y2="201.50" stroke="#1a1a1a" stroke-width="1.35"/>
<line x1="615.10" y1="201.00" x2="879.50" y2="201.00" stroke="#1a1a1a" stroke-width="1.45"/>
<line x1="615.10" y1="201.00" x2="620.30" y2="201.00" stroke="#1a1a1a" stroke-width="1.1"/>
<line x1="617.50" y1="197.83" x2="620.30" y2="197.83" stroke="#1a1a1a" stroke-width="1.1"/>
<line x1="617.50" y1="194.66" x2="620.30" y2="194.66" stroke="#1a1a1a" stroke-width="1.1"/>
<line x1="617.50" y1="191.49" x2="620.30" y2="191.49" stroke="#1a1a1a" stroke-width="1.1"/>
<line x1="617.50" y1="188.32" x2="620.30" y2="188.32" stroke="#1a1a1a" stroke-width="1.1"/>
<line x1="615.10" y1="185.15" x2="620.30" y2="185.15" stroke="#1a1a1a" stroke-width="1.1"/>
<line x1="617.50" y1="181.98" x2="620.30" y2="181.98" stroke="#1a1a1a" stroke-width="1.1"/>
<line x1="617.50" y1="178.81" x2="620.30" y2="178.81" stroke="#1a1a1a" stroke-width="1.1"/>
<line x1="617.50" y1="175.64" x2="620.30" y2="175.64" stroke="#1a1a1a" stroke-width="1.1"/>
<line x1="617.50" y1="172.47" x2="620.30" y2="172.47" stroke="#1a1a1a" stroke-width="1.1"/>
<line x1="615.10" y1="169.30" x2="620.30" y2="169.30" stroke="#1a1a1a" stroke-width="1.1"/>
<line x1="617.50" y1="166.13" x2="620.30" y2="166.13" stroke="#1a1a1a" stroke-width="1.1"/>
<line x1="617.50" y1="162.96" x2="620.30" y2="162.96" stroke="#1a1a1a" stroke-width="1.1"/>
<line x1="617.50" y1="159.79" x2="620.30" y2="159.79" stroke="#1a1a1a" stroke-width="1.1"/>
<line x1="617.50" y1="156.62" x2="620.30" y2="156.62" stroke="#1a1a1a" stroke-width="1.1"/>
<line x1="615.10" y1="153.45" x2="620.30" y2="153.45" stroke="#1a1a1a" stroke-width="1.1"/>
<line x1="617.50" y1="150.28" x2="620.30" y2="150.28" stroke="#1a1a1a" stroke-width="1.1"/>
<line x1="617.50" y1="147.11" x2="620.30" y2="147.11" stroke="#1a1a1a" stroke-width="1.1"/>
<line x1="617.50" y1="143.94" x2="620.30" y2="143.94" stroke="#1a1a1a" stroke-width="1.1"/>
<line x1="617.50" y1="140.77" x2="620.30" y2="140.77" stroke="#1a1a1a" stroke-width="1.1"/>
<line x1="617.50" y1="137.60" x2="620.30" y2="137.60" stroke="#1a1a1a" stroke-width="1.1"/>
<line x1="620.30" y1="201.00" x2="620.30" y2="206.40" stroke="#1a1a1a" stroke-width="1.05"/>
<line x1="628.18" y1="201.00" x2="628.18" y2="203.40" stroke="#1a1a1a" stroke-width="1.0"/>
<line x1="636.06" y1="201.00" x2="636.06" y2="203.40" stroke="#1a1a1a" stroke-width="1.0"/>
<line x1="643.94" y1="201.00" x2="643.94" y2="203.40" stroke="#1a1a1a" stroke-width="1.0"/>
<line x1="651.82" y1="201.00" x2="651.82" y2="203.40" stroke="#1a1a1a" stroke-width="1.0"/>
<line x1="659.70" y1="201.00" x2="659.70" y2="206.40" stroke="#1a1a1a" stroke-width="1.05"/>
<line x1="667.58" y1="201.00" x2="667.58" y2="203.40" stroke="#1a1a1a" stroke-width="1.0"/>
<line x1="675.46" y1="201.00" x2="675.46" y2="203.40" stroke="#1a1a1a" stroke-width="1.0"/>
<line x1="683.34" y1="201.00" x2="683.34" y2="203.40" stroke="#1a1a1a" stroke-width="1.0"/>
<line x1="691.22" y1="201.00" x2="691.22" y2="203.40" stroke="#1a1a1a" stroke-width="1.0"/>
<line x1="699.10" y1="201.00" x2="699.10" y2="206.40" stroke="#1a1a1a" stroke-width="1.05"/>
<line x1="706.98" y1="201.00" x2="706.98" y2="203.40" stroke="#1a1a1a" stroke-width="1.0"/>
<line x1="714.86" y1="201.00" x2="714.86" y2="203.40" stroke="#1a1a1a" stroke-width="1.0"/>
<line x1="722.74" y1="201.00" x2="722.74" y2="203.40" stroke="#1a1a1a" stroke-width="1.0"/>
<line x1="730.62" y1="201.00" x2="730.62" y2="203.40" stroke="#1a1a1a" stroke-width="1.0"/>
<line x1="738.50" y1="201.00" x2="738.50" y2="206.40" stroke="#1a1a1a" stroke-width="1.05"/>
<line x1="746.38" y1="201.00" x2="746.38" y2="203.40" stroke="#1a1a1a" stroke-width="1.0"/>
<line x1="754.26" y1="201.00" x2="754.26" y2="203.40" stroke="#1a1a1a" stroke-width="1.0"/>
<line x1="762.14" y1="201.00" x2="762.14" y2="203.40" stroke="#1a1a1a" stroke-width="1.0"/>
<line x1="770.02" y1="201.00" x2="770.02" y2="203.40" stroke="#1a1a1a" stroke-width="1.0"/>
<line x1="777.90" y1="201.00" x2="777.90" y2="206.40" stroke="#1a1a1a" stroke-width="1.05"/>
<line x1="785.78" y1="201.00" x2="785.78" y2="203.40" stroke="#1a1a1a" stroke-width="1.0"/>
<line x1="793.66" y1="201.00" x2="793.66" y2="203.40" stroke="#1a1a1a" stroke-width="1.0"/>
<line x1="801.54" y1="201.00" x2="801.54" y2="203.40" stroke="#1a1a1a" stroke-width="1.0"/>
<line x1="809.42" y1="201.00" x2="809.42" y2="203.40" stroke="#1a1a1a" stroke-width="1.0"/>
<line x1="817.30" y1="201.00" x2="817.30" y2="206.40" stroke="#1a1a1a" stroke-width="1.05"/>
<line x1="825.18" y1="201.00" x2="825.18" y2="203.40" stroke="#1a1a1a" stroke-width="1.0"/>
<line x1="833.06" y1="201.00" x2="833.06" y2="203.40" stroke="#1a1a1a" stroke-width="1.0"/>
<line x1="840.94" y1="201.00" x2="840.94" y2="203.40" stroke="#1a1a1a" stroke-width="1.0"/>
<line x1="848.82" y1="201.00" x2="848.82" y2="203.40" stroke="#1a1a1a" stroke-width="1.0"/>
<line x1="856.70" y1="201.00" x2="856.70" y2="206.40" stroke="#1a1a1a" stroke-width="1.05"/>
<line x1="864.58" y1="201.00" x2="864.58" y2="203.40" stroke="#1a1a1a" stroke-width="1.0"/>
<line x1="872.46" y1="201.00" x2="872.46" y2="203.40" stroke="#1a1a1a" stroke-width="1.0"/>
<text x="591.17" y="205.00" font-size="11.99" fill="#1a1a1a" stroke="#1a1a1a" textLength="17.83" lengthAdjust="spacingAndGlyphs" clip-path="url(#cm)">0.0</text>
<text x="577.69" y="173.30" font-size="11.99" fill="#1a1a1a" stroke="#1a1a1a" textLength="36.21" lengthAdjust="spacingAndGlyphs" clip-path="url(#cm)">2.0e-1</text>
<text x="577.69" y="141.60" font-size="11.99" fill="#1a1a1a" stroke="#1a1a1a" textLength="36.21" lengthAdjust="spacingAndGlyphs" clip-path="url(#cm)">4.0e-1</text>
<text x="609.60" y="216.80" font-size="11.88" fill="#1a1a1a" stroke="#1a1a1a" textLength="24.99" lengthAdjust="spacingAndGlyphs" clip-path="url(#cm)">0.00</text>
<text x="685.41" y="216.80" font-size="11.88" fill="#1a1a1a" stroke="#1a1a1a" textLength="31.99" lengthAdjust="spacingAndGlyphs" clip-path="url(#cm)">10.00</text>
<text x="764.01" y="216.80" font-size="11.88" fill="#1a1a1a" stroke="#1a1a1a" textLength="31.99" lengthAdjust="spacingAndGlyphs" clip-path="url(#cm)">20.00</text>
<text x="842.01" y="216.80" font-size="11.88" fill="#1a1a1a" stroke="#1a1a1a" textLength="31.99" lengthAdjust="spacingAndGlyphs" clip-path="url(#cm)">30.00</text>
<line x1="620.00" y1="254.50" x2="620.00" y2="318.70" stroke="#1a1a1a" stroke-width="1.35"/>
<line x1="614.80" y1="318.20" x2="879.50" y2="318.20" stroke="#1a1a1a" stroke-width="1.45"/>
<line x1="614.80" y1="318.20" x2="620.00" y2="318.20" stroke="#1a1a1a" stroke-width="1.1"/>
<line x1="617.20" y1="315.03" x2="620.00" y2="315.03" stroke="#1a1a1a" stroke-width="1.1"/>
<line x1="617.20" y1="311.86" x2="620.00" y2="311.86" stroke="#1a1a1a" stroke-width="1.1"/>
<line x1="617.20" y1="308.69" x2="620.00" y2="308.69" stroke="#1a1a1a" stroke-width="1.1"/>
<line x1="617.20" y1="305.52" x2="620.00" y2="305.52" stroke="#1a1a1a" stroke-width="1.1"/>
<line x1="614.80" y1="302.35" x2="620.00" y2="302.35" stroke="#1a1a1a" stroke-width="1.1"/>
<line x1="617.20" y1="299.18" x2="620.00" y2="299.18" stroke="#1a1a1a" stroke-width="1.1"/>
<line x1="617.20" y1="296.01" x2="620.00" y2="296.01" stroke="#1a1a1a" stroke-width="1.1"/>
<line x1="617.20" y1="292.84" x2="620.00" y2="292.84" stroke="#1a1a1a" stroke-width="1.1"/>
<line x1="617.20" y1="289.67" x2="620.00" y2="289.67" stroke="#1a1a1a" stroke-width="1.1"/>
<line x1="614.80" y1="286.50" x2="620.00" y2="286.50" stroke="#1a1a1a" stroke-width="1.1"/>
<line x1="617.20" y1="283.33" x2="620.00" y2="283.33" stroke="#1a1a1a" stroke-width="1.1"/>
<line x1="617.20" y1="280.16" x2="620.00" y2="280.16" stroke="#1a1a1a" stroke-width="1.1"/>
<line x1="617.20" y1="276.99" x2="620.00" y2="276.99" stroke="#1a1a1a" stroke-width="1.1"/>
<line x1="617.20" y1="273.82" x2="620.00" y2="273.82" stroke="#1a1a1a" stroke-width="1.1"/>
<line x1="614.80" y1="270.65" x2="620.00" y2="270.65" stroke="#1a1a1a" stroke-width="1.1"/>
<line x1="617.20" y1="267.48" x2="620.00" y2="267.48" stroke="#1a1a1a" stroke-width="1.1"/>
<line x1="617.20" y1="264.31" x2="620.00" y2="264.31" stroke="#1a1a1a" stroke-width="1.1"/>
<line x1="617.20" y1="261.14" x2="620.00" y2="261.14" stroke="#1a1a1a" stroke-width="1.1"/>
<line x1="617.20" y1="257.97" x2="620.00" y2="257.97" stroke="#1a1a1a" stroke-width="1.1"/>
<line x1="617.20" y1="254.80" x2="620.00" y2="254.80" stroke="#1a1a1a" stroke-width="1.1"/>
<line x1="620.00" y1="318.20" x2="620.00" y2="323.60" stroke="#1a1a1a" stroke-width="1.05"/>
<line x1="627.88" y1="318.20" x2="627.88" y2="320.60" stroke="#1a1a1a" stroke-width="1.0"/>
<line x1="635.76" y1="318.20" x2="635.76" y2="320.60" stroke="#1a1a1a" stroke-width="1.0"/>
<line x1="643.64" y1="318.20" x2="643.64" y2="320.60" stroke="#1a1a1a" stroke-width="1.0"/>
<line x1="651.52" y1="318.20" x2="651.52" y2="320.60" stroke="#1a1a1a" stroke-width="1.0"/>
<line x1="659.40" y1="318.20" x2="659.40" y2="323.60" stroke="#1a1a1a" stroke-width="1.05"/>
<line x1="667.28" y1="318.20" x2="667.28" y2="320.60" stroke="#1a1a1a" stroke-width="1.0"/>
<line x1="675.16" y1="318.20" x2="675.16" y2="320.60" stroke="#1a1a1a" stroke-width="1.0"/>
<line x1="683.04" y1="318.20" x2="683.04" y2="320.60" stroke="#1a1a1a" stroke-width="1.0"/>
<line x1="690.92" y1="318.20" x2="690.92" y2="320.60" stroke="#1a1a1a" stroke-width="1.0"/>
<line x1="698.80" y1="318.20" x2="698.80" y2="323.60" stroke="#1a1a1a" stroke-width="1.05"/>
<line x1="706.68" y1="318.20" x2="706.68" y2="320.60" stroke="#1a1a1a" stroke-width="1.0"/>
<line x1="714.56" y1="318.20" x2="714.56" y2="320.60" stroke="#1a1a1a" stroke-width="1.0"/>
<line x1="722.44" y1="318.20" x2="722.44" y2="320.60" stroke="#1a1a1a" stroke-width="1.0"/>
<line x1="730.32" y1="318.20" x2="730.32" y2="320.60" stroke="#1a1a1a" stroke-width="1.0"/>
<line x1="738.20" y1="318.20" x2="738.20" y2="323.60" stroke="#1a1a1a" stroke-width="1.05"/>
<line x1="746.08" y1="318.20" x2="746.08" y2="320.60" stroke="#1a1a1a" stroke-width="1.0"/>
<line x1="753.96" y1="318.20" x2="753.96" y2="320.60" stroke="#1a1a1a" stroke-width="1.0"/>
<line x1="761.84" y1="318.20" x2="761.84" y2="320.60" stroke="#1a1a1a" stroke-width="1.0"/>
<line x1="769.72" y1="318.20" x2="769.72" y2="320.60" stroke="#1a1a1a" stroke-width="1.0"/>
<line x1="777.60" y1="318.20" x2="777.60" y2="323.60" stroke="#1a1a1a" stroke-width="1.05"/>
<line x1="785.48" y1="318.20" x2="785.48" y2="320.60" stroke="#1a1a1a" stroke-width="1.0"/>
<line x1="793.36" y1="318.20" x2="793.36" y2="320.60" stroke="#1a1a1a" stroke-width="1.0"/>
<line x1="801.24" y1="318.20" x2="801.24" y2="320.60" stroke="#1a1a1a" stroke-width="1.0"/>
<line x1="809.12" y1="318.20" x2="809.12" y2="320.60" stroke="#1a1a1a" stroke-width="1.0"/>
<line x1="817.00" y1="318.20" x2="817.00" y2="323.60" stroke="#1a1a1a" stroke-width="1.05"/>
<line x1="824.88" y1="318.20" x2="824.88" y2="320.60" stroke="#1a1a1a" stroke-width="1.0"/>
<line x1="832.76" y1="318.20" x2="832.76" y2="320.60" stroke="#1a1a1a" stroke-width="1.0"/>
<line x1="840.64" y1="318.20" x2="840.64" y2="320.60" stroke="#1a1a1a" stroke-width="1.0"/>
<line x1="848.52" y1="318.20" x2="848.52" y2="320.60" stroke="#1a1a1a" stroke-width="1.0"/>
<line x1="856.40" y1="318.20" x2="856.40" y2="323.60" stroke="#1a1a1a" stroke-width="1.05"/>
<line x1="864.28" y1="318.20" x2="864.28" y2="320.60" stroke="#1a1a1a" stroke-width="1.0"/>
<line x1="872.16" y1="318.20" x2="872.16" y2="320.60" stroke="#1a1a1a" stroke-width="1.0"/>
<text x="590.87" y="322.20" font-size="11.99" fill="#1a1a1a" stroke="#1a1a1a" textLength="17.83" lengthAdjust="spacingAndGlyphs" clip-path="url(#cm)">0.0</text>
<text x="577.39" y="290.50" font-size="11.99" fill="#1a1a1a" stroke="#1a1a1a" textLength="36.21" lengthAdjust="spacingAndGlyphs" clip-path="url(#cm)">2.0e-1</text>
<text x="577.39" y="258.80" font-size="11.99" fill="#1a1a1a" stroke="#1a1a1a" textLength="36.21" lengthAdjust="spacingAndGlyphs" clip-path="url(#cm)">4.0e-1</text>
<text x="609.30" y="334.00" font-size="11.88" fill="#1a1a1a" stroke="#1a1a1a" textLength="24.99" lengthAdjust="spacingAndGlyphs" clip-path="url(#cm)">0.00</text>
<text x="685.11" y="334.00" font-size="11.88" fill="#1a1a1a" stroke="#1a1a1a" textLength="31.99" lengthAdjust="spacingAndGlyphs" clip-path="url(#cm)">10.00</text>
<text x="763.71" y="334.00" font-size="11.88" fill="#1a1a1a" stroke="#1a1a1a" textLength="31.99" lengthAdjust="spacingAndGlyphs" clip-path="url(#cm)">20.00</text>
<text x="841.71" y="334.00" font-size="11.88" fill="#1a1a1a" stroke="#1a1a1a" textLength="31.99" lengthAdjust="spacingAndGlyphs" clip-path="url(#cm)">30.00</text>
<line x1="622.00" y1="367.30" x2="622.00" y2="431.50" stroke="#1a1a1a" stroke-width="1.35"/>
<line x1="616.80" y1="431.00" x2="879.50" y2="431.00" stroke="#1a1a1a" stroke-width="1.45"/>
<line x1="616.80" y1="431.00" x2="622.00" y2="431.00" stroke="#1a1a1a" stroke-width="1.1"/>
<line x1="619.20" y1="427.83" x2="622.00" y2="427.83" stroke="#1a1a1a" stroke-width="1.1"/>
<line x1="619.20" y1="424.66" x2="622.00" y2="424.66" stroke="#1a1a1a" stroke-width="1.1"/>
<line x1="619.20" y1="421.49" x2="622.00" y2="421.49" stroke="#1a1a1a" stroke-width="1.1"/>
<line x1="619.20" y1="418.32" x2="622.00" y2="418.32" stroke="#1a1a1a" stroke-width="1.1"/>
<line x1="616.80" y1="415.15" x2="622.00" y2="415.15" stroke="#1a1a1a" stroke-width="1.1"/>
<line x1="619.20" y1="411.98" x2="622.00" y2="411.98" stroke="#1a1a1a" stroke-width="1.1"/>
<line x1="619.20" y1="408.81" x2="622.00" y2="408.81" stroke="#1a1a1a" stroke-width="1.1"/>
<line x1="619.20" y1="405.64" x2="622.00" y2="405.64" stroke="#1a1a1a" stroke-width="1.1"/>
<line x1="619.20" y1="402.47" x2="622.00" y2="402.47" stroke="#1a1a1a" stroke-width="1.1"/>
<line x1="616.80" y1="399.30" x2="622.00" y2="399.30" stroke="#1a1a1a" stroke-width="1.1"/>
<line x1="619.20" y1="396.13" x2="622.00" y2="396.13" stroke="#1a1a1a" stroke-width="1.1"/>
<line x1="619.20" y1="392.96" x2="622.00" y2="392.96" stroke="#1a1a1a" stroke-width="1.1"/>
<line x1="619.20" y1="389.79" x2="622.00" y2="389.79" stroke="#1a1a1a" stroke-width="1.1"/>
<line x1="619.20" y1="386.62" x2="622.00" y2="386.62" stroke="#1a1a1a" stroke-width="1.1"/>
<line x1="616.80" y1="383.45" x2="622.00" y2="383.45" stroke="#1a1a1a" stroke-width="1.1"/>
<line x1="619.20" y1="380.28" x2="622.00" y2="380.28" stroke="#1a1a1a" stroke-width="1.1"/>
<line x1="619.20" y1="377.11" x2="622.00" y2="377.11" stroke="#1a1a1a" stroke-width="1.1"/>
<line x1="619.20" y1="373.94" x2="622.00" y2="373.94" stroke="#1a1a1a" stroke-width="1.1"/>
<line x1="619.20" y1="370.77" x2="622.00" y2="370.77" stroke="#1a1a1a" stroke-width="1.1"/>
<line x1="619.20" y1="367.60" x2="622.00" y2="367.60" stroke="#1a1a1a" stroke-width="1.1"/>
<line x1="622.00" y1="431.00" x2="622.00" y2="436.40" stroke="#1a1a1a" stroke-width="1.05"/>
<line x1="629.88" y1="431.00" x2="629.88" y2="433.40" stroke="#1a1a1a" stroke-width="1.0"/>
<line x1="637.76" y1="431.00" x2="637.76" y2="433.40" stroke="#1a1a1a" stroke-width="1.0"/>
<line x1="645.64" y1="431.00" x2="645.64" y2="433.40" stroke="#1a1a1a" stroke-width="1.0"/>
<line x1="653.52" y1="431.00" x2="653.52" y2="433.40" stroke="#1a1a1a" stroke-width="1.0"/>
<line x1="661.40" y1="431.00" x2="661.40" y2="436.40" stroke="#1a1a1a" stroke-width="1.05"/>
<line x1="669.28" y1="431.00" x2="669.28" y2="433.40" stroke="#1a1a1a" stroke-width="1.0"/>
<line x1="677.16" y1="431.00" x2="677.16" y2="433.40" stroke="#1a1a1a" stroke-width="1.0"/>
<line x1="685.04" y1="431.00" x2="685.04" y2="433.40" stroke="#1a1a1a" stroke-width="1.0"/>
<line x1="692.92" y1="431.00" x2="692.92" y2="433.40" stroke="#1a1a1a" stroke-width="1.0"/>
<line x1="700.80" y1="431.00" x2="700.80" y2="436.40" stroke="#1a1a1a" stroke-width="1.05"/>
<line x1="708.68" y1="431.00" x2="708.68" y2="433.40" stroke="#1a1a1a" stroke-width="1.0"/>
<line x1="716.56" y1="431.00" x2="716.56" y2="433.40" stroke="#1a1a1a" stroke-width="1.0"/>
<line x1="724.44" y1="431.00" x2="724.44" y2="433.40" stroke="#1a1a1a" stroke-width="1.0"/>
<line x1="732.32" y1="431.00" x2="732.32" y2="433.40" stroke="#1a1a1a" stroke-width="1.0"/>
<line x1="740.20" y1="431.00" x2="740.20" y2="436.40" stroke="#1a1a1a" stroke-width="1.05"/>
<line x1="748.08" y1="431.00" x2="748.08" y2="433.40" stroke="#1a1a1a" stroke-width="1.0"/>
<line x1="755.96" y1="431.00" x2="755.96" y2="433.40" stroke="#1a1a1a" stroke-width="1.0"/>
<line x1="763.84" y1="431.00" x2="763.84" y2="433.40" stroke="#1a1a1a" stroke-width="1.0"/>
<line x1="771.72" y1="431.00" x2="771.72" y2="433.40" stroke="#1a1a1a" stroke-width="1.0"/>
<line x1="779.60" y1="431.00" x2="779.60" y2="436.40" stroke="#1a1a1a" stroke-width="1.05"/>
<line x1="787.48" y1="431.00" x2="787.48" y2="433.40" stroke="#1a1a1a" stroke-width="1.0"/>
<line x1="795.36" y1="431.00" x2="795.36" y2="433.40" stroke="#1a1a1a" stroke-width="1.0"/>
<line x1="803.24" y1="431.00" x2="803.24" y2="433.40" stroke="#1a1a1a" stroke-width="1.0"/>
<line x1="811.12" y1="431.00" x2="811.12" y2="433.40" stroke="#1a1a1a" stroke-width="1.0"/>
<line x1="819.00" y1="431.00" x2="819.00" y2="436.40" stroke="#1a1a1a" stroke-width="1.05"/>
<line x1="826.88" y1="431.00" x2="826.88" y2="433.40" stroke="#1a1a1a" stroke-width="1.0"/>
<line x1="834.76" y1="431.00" x2="834.76" y2="433.40" stroke="#1a1a1a" stroke-width="1.0"/>
<line x1="842.64" y1="431.00" x2="842.64" y2="433.40" stroke="#1a1a1a" stroke-width="1.0"/>
<line x1="850.52" y1="431.00" x2="850.52" y2="433.40" stroke="#1a1a1a" stroke-width="1.0"/>
<line x1="858.40" y1="431.00" x2="858.40" y2="436.40" stroke="#1a1a1a" stroke-width="1.05"/>
<line x1="866.28" y1="431.00" x2="866.28" y2="433.40" stroke="#1a1a1a" stroke-width="1.0"/>
<line x1="874.16" y1="431.00" x2="874.16" y2="433.40" stroke="#1a1a1a" stroke-width="1.0"/>
<text x="592.87" y="435.00" font-size="11.99" fill="#1a1a1a" stroke="#1a1a1a" textLength="17.83" lengthAdjust="spacingAndGlyphs" clip-path="url(#cm)">0.0</text>
<text x="579.39" y="403.30" font-size="11.99" fill="#1a1a1a" stroke="#1a1a1a" textLength="36.21" lengthAdjust="spacingAndGlyphs" clip-path="url(#cm)">2.0e-1</text>
<text x="579.39" y="371.60" font-size="11.99" fill="#1a1a1a" stroke="#1a1a1a" textLength="36.21" lengthAdjust="spacingAndGlyphs" clip-path="url(#cm)">4.0e-1</text>
<text x="611.30" y="446.80" font-size="11.88" fill="#1a1a1a" stroke="#1a1a1a" textLength="24.99" lengthAdjust="spacingAndGlyphs" clip-path="url(#cm)">0.00</text>
<text x="687.11" y="446.80" font-size="11.88" fill="#1a1a1a" stroke="#1a1a1a" textLength="31.99" lengthAdjust="spacingAndGlyphs" clip-path="url(#cm)">10.00</text>
<text x="765.71" y="446.80" font-size="11.88" fill="#1a1a1a" stroke="#1a1a1a" textLength="31.99" lengthAdjust="spacingAndGlyphs" clip-path="url(#cm)">20.00</text>
<text x="843.71" y="446.80" font-size="11.88" fill="#1a1a1a" stroke="#1a1a1a" textLength="31.99" lengthAdjust="spacingAndGlyphs" clip-path="url(#cm)">30.00</text>
<line x1="622.00" y1="485.30" x2="622.00" y2="549.50" stroke="#1a1a1a" stroke-width="1.35"/>
<line x1="616.80" y1="549.00" x2="879.50" y2="549.00" stroke="#1a1a1a" stroke-width="1.45"/>
<line x1="616.80" y1="549.00" x2="622.00" y2="549.00" stroke="#1a1a1a" stroke-width="1.1"/>
<line x1="619.20" y1="545.83" x2="622.00" y2="545.83" stroke="#1a1a1a" stroke-width="1.1"/>
<line x1="619.20" y1="542.66" x2="622.00" y2="542.66" stroke="#1a1a1a" stroke-width="1.1"/>
<line x1="619.20" y1="539.49" x2="622.00" y2="539.49" stroke="#1a1a1a" stroke-width="1.1"/>
<line x1="619.20" y1="536.32" x2="622.00" y2="536.32" stroke="#1a1a1a" stroke-width="1.1"/>
<line x1="616.80" y1="533.15" x2="622.00" y2="533.15" stroke="#1a1a1a" stroke-width="1.1"/>
<line x1="619.20" y1="529.98" x2="622.00" y2="529.98" stroke="#1a1a1a" stroke-width="1.1"/>
<line x1="619.20" y1="526.81" x2="622.00" y2="526.81" stroke="#1a1a1a" stroke-width="1.1"/>
<line x1="619.20" y1="523.64" x2="622.00" y2="523.64" stroke="#1a1a1a" stroke-width="1.1"/>
<line x1="619.20" y1="520.47" x2="622.00" y2="520.47" stroke="#1a1a1a" stroke-width="1.1"/>
<line x1="616.80" y1="517.30" x2="622.00" y2="517.30" stroke="#1a1a1a" stroke-width="1.1"/>
<line x1="619.20" y1="514.13" x2="622.00" y2="514.13" stroke="#1a1a1a" stroke-width="1.1"/>
<line x1="619.20" y1="510.96" x2="622.00" y2="510.96" stroke="#1a1a1a" stroke-width="1.1"/>
<line x1="619.20" y1="507.79" x2="622.00" y2="507.79" stroke="#1a1a1a" stroke-width="1.1"/>
<line x1="619.20" y1="504.62" x2="622.00" y2="504.62" stroke="#1a1a1a" stroke-width="1.1"/>
<line x1="616.80" y1="501.45" x2="622.00" y2="501.45" stroke="#1a1a1a" stroke-width="1.1"/>
<line x1="619.20" y1="498.28" x2="622.00" y2="498.28" stroke="#1a1a1a" stroke-width="1.1"/>
<line x1="619.20" y1="495.11" x2="622.00" y2="495.11" stroke="#1a1a1a" stroke-width="1.1"/>
<line x1="619.20" y1="491.94" x2="622.00" y2="491.94" stroke="#1a1a1a" stroke-width="1.1"/>
<line x1="619.20" y1="488.77" x2="622.00" y2="488.77" stroke="#1a1a1a" stroke-width="1.1"/>
<line x1="619.20" y1="485.60" x2="622.00" y2="485.60" stroke="#1a1a1a" stroke-width="1.1"/>
<line x1="622.00" y1="549.00" x2="622.00" y2="554.40" stroke="#1a1a1a" stroke-width="1.05"/>
<line x1="629.88" y1="549.00" x2="629.88" y2="551.40" stroke="#1a1a1a" stroke-width="1.0"/>
<line x1="637.76" y1="549.00" x2="637.76" y2="551.40" stroke="#1a1a1a" stroke-width="1.0"/>
<line x1="645.64" y1="549.00" x2="645.64" y2="551.40" stroke="#1a1a1a" stroke-width="1.0"/>
<line x1="653.52" y1="549.00" x2="653.52" y2="551.40" stroke="#1a1a1a" stroke-width="1.0"/>
<line x1="661.40" y1="549.00" x2="661.40" y2="554.40" stroke="#1a1a1a" stroke-width="1.05"/>
<line x1="669.28" y1="549.00" x2="669.28" y2="551.40" stroke="#1a1a1a" stroke-width="1.0"/>
<line x1="677.16" y1="549.00" x2="677.16" y2="551.40" stroke="#1a1a1a" stroke-width="1.0"/>
<line x1="685.04" y1="549.00" x2="685.04" y2="551.40" stroke="#1a1a1a" stroke-width="1.0"/>
<line x1="692.92" y1="549.00" x2="692.92" y2="551.40" stroke="#1a1a1a" stroke-width="1.0"/>
<line x1="700.80" y1="549.00" x2="700.80" y2="554.40" stroke="#1a1a1a" stroke-width="1.05"/>
<line x1="708.68" y1="549.00" x2="708.68" y2="551.40" stroke="#1a1a1a" stroke-width="1.0"/>
<line x1="716.56" y1="549.00" x2="716.56" y2="551.40" stroke="#1a1a1a" stroke-width="1.0"/>
<line x1="724.44" y1="549.00" x2="724.44" y2="551.40" stroke="#1a1a1a" stroke-width="1.0"/>
<line x1="732.32" y1="549.00" x2="732.32" y2="551.40" stroke="#1a1a1a" stroke-width="1.0"/>
<line x1="740.20" y1="549.00" x2="740.20" y2="554.40" stroke="#1a1a1a" stroke-width="1.05"/>
<line x1="748.08" y1="549.00" x2="748.08" y2="551.40" stroke="#1a1a1a" stroke-width="1.0"/>
<line x1="755.96" y1="549.00" x2="755.96" y2="551.40" stroke="#1a1a1a" stroke-width="1.0"/>
<line x1="763.84" y1="549.00" x2="763.84" y2="551.40" stroke="#1a1a1a" stroke-width="1.0"/>
<line x1="771.72" y1="549.00" x2="771.72" y2="551.40" stroke="#1a1a1a" stroke-width="1.0"/>
<line x1="779.60" y1="549.00" x2="779.60" y2="554.40" stroke="#1a1a1a" stroke-width="1.05"/>
<line x1="787.48" y1="549.00" x2="787.48" y2="551.40" stroke="#1a1a1a" stroke-width="1.0"/>
<line x1="795.36" y1="549.00" x2="795.36" y2="551.40" stroke="#1a1a1a" stroke-width="1.0"/>
<line x1="803.24" y1="549.00" x2="803.24" y2="551.40" stroke="#1a1a1a" stroke-width="1.0"/>
<line x1="811.12" y1="549.00" x2="811.12" y2="551.40" stroke="#1a1a1a" stroke-width="1.0"/>
<line x1="819.00" y1="549.00" x2="819.00" y2="554.40" stroke="#1a1a1a" stroke-width="1.05"/>
<line x1="826.88" y1="549.00" x2="826.88" y2="551.40" stroke="#1a1a1a" stroke-width="1.0"/>
<line x1="834.76" y1="549.00" x2="834.76" y2="551.40" stroke="#1a1a1a" stroke-width="1.0"/>
<line x1="842.64" y1="549.00" x2="842.64" y2="551.40" stroke="#1a1a1a" stroke-width="1.0"/>
<line x1="850.52" y1="549.00" x2="850.52" y2="551.40" stroke="#1a1a1a" stroke-width="1.0"/>
<line x1="858.40" y1="549.00" x2="858.40" y2="554.40" stroke="#1a1a1a" stroke-width="1.05"/>
<line x1="866.28" y1="549.00" x2="866.28" y2="551.40" stroke="#1a1a1a" stroke-width="1.0"/>
<line x1="874.16" y1="549.00" x2="874.16" y2="551.40" stroke="#1a1a1a" stroke-width="1.0"/>
<text x="592.87" y="553.00" font-size="11.99" fill="#1a1a1a" stroke="#1a1a1a" textLength="17.83" lengthAdjust="spacingAndGlyphs" clip-path="url(#cm)">0.0</text>
<text x="579.39" y="521.30" font-size="11.99" fill="#1a1a1a" stroke="#1a1a1a" textLength="36.21" lengthAdjust="spacingAndGlyphs" clip-path="url(#cm)">2.0e-1</text>
<text x="579.39" y="489.60" font-size="11.99" fill="#1a1a1a" stroke="#1a1a1a" textLength="36.21" lengthAdjust="spacingAndGlyphs" clip-path="url(#cm)">4.0e-1</text>
<text x="611.30" y="564.80" font-size="11.88" fill="#1a1a1a" stroke="#1a1a1a" textLength="24.99" lengthAdjust="spacingAndGlyphs" clip-path="url(#cm)">0.00</text>
<text x="687.11" y="564.80" font-size="11.88" fill="#1a1a1a" stroke="#1a1a1a" textLength="31.99" lengthAdjust="spacingAndGlyphs" clip-path="url(#cm)">10.00</text>
<text x="765.71" y="564.80" font-size="11.88" fill="#1a1a1a" stroke="#1a1a1a" textLength="31.99" lengthAdjust="spacingAndGlyphs" clip-path="url(#cm)">20.00</text>
<text x="843.71" y="564.80" font-size="11.88" fill="#1a1a1a" stroke="#1a1a1a" textLength="31.99" lengthAdjust="spacingAndGlyphs" clip-path="url(#cm)">30.00</text>
<path d="M620.30,200.70 L629.40,200.70 L629.76,171.30 L630.11,200.70 L641.73,200.68 L643.47,200.59 L644.73,200.38 L645.83,199.97 L646.78,199.35 L649.46,196.63 L650.56,195.71 L651.66,195.14 L652.69,194.95 L653.40,195.01 L654.11,195.21 L657.26,196.75 L658.83,197.23 L660.09,197.31 L663.09,197.09 L666.24,197.56 L668.05,197.68 L714.86,197.68 L717.70,197.46 L721.32,196.56 L722.74,196.40 L724.16,196.56 L727.70,197.44 L730.23,197.67 L756.70,197.70 L760.25,197.62 L761.35,197.48 L762.22,197.25 L763.01,196.89 L763.72,196.41 L765.06,195.04 L767.26,191.94 L768.05,191.00 L768.92,190.33 L769.78,190.10 L770.73,190.31 L772.54,191.26 L773.49,191.61 L774.35,191.77 L776.25,191.91 L777.27,192.15 L780.50,193.71 L782.00,194.21 L783.57,194.42 L787.99,194.50 L790.19,194.72 L792.24,195.18 L797.92,196.90 L799.89,197.28 L802.09,197.53 L809.03,197.70 L870.10,197.70" fill="none" stroke="#1a1a1a" stroke-width="1.3" stroke-linejoin="round" stroke-linecap="round"/>
<path d="M620.00,317.90 L628.31,317.90 L628.67,309.40 L629.02,317.90 L639.07,317.88 L642.54,317.76 L644.74,317.41 L648.37,316.22 L650.34,315.82 L653.49,315.63 L663.34,315.56 L664.60,315.36 L666.41,314.74 L667.20,314.60 L668.07,314.72 L670.04,315.38 L671.22,315.56 L680.52,315.56 L681.39,315.39 L682.02,315.08 L682.65,314.53 L683.91,313.13 L684.30,312.87 L684.62,312.80 L684.93,312.87 L685.33,313.13 L686.66,314.61 L687.30,315.13 L688.00,315.44 L688.95,315.57 L715.11,315.56 L722.60,315.44 L726.85,315.26 L727.56,315.08 L728.11,314.73 L728.59,314.12 L728.98,313.29 L729.69,310.86 L731.19,303.67 L731.58,302.57 L731.90,302.27 L732.05,302.34 L732.29,302.69 L732.68,303.89 L734.02,310.30 L734.65,312.58 L734.97,313.35 L735.36,314.00 L735.76,314.37 L736.23,314.54 L736.70,314.48 L737.10,314.26 L737.49,313.88 L737.88,313.29 L738.59,311.67 L740.01,307.46 L740.41,306.73 L740.80,306.47 L741.19,306.71 L741.59,307.41 L743.01,311.53 L743.64,312.96 L744.35,313.88 L744.74,314.12 L745.13,314.22 L745.69,314.18 L746.24,313.98 L748.44,312.52 L748.92,312.32 L749.39,312.26 L749.86,312.35 L750.34,312.57 L751.99,313.81 L752.70,314.22 L753.41,314.42 L754.04,314.36 L754.59,314.09 L755.14,313.59 L757.03,310.97 L757.43,310.69 L757.74,310.63 L758.06,310.72 L758.45,311.05 L760.26,313.74 L760.82,314.32 L761.29,314.61 L761.84,314.71 L762.39,314.59 L762.94,314.30 L764.36,313.27 L764.83,313.09 L765.23,313.06 L766.02,313.38 L767.51,314.60 L768.30,315.07 L769.17,315.35 L770.43,315.48 L784.38,315.60 L869.80,315.60" fill="none" stroke="#1a1a1a" stroke-width="1.3" stroke-linejoin="round" stroke-linecap="round"/>
<path d="M622.00,430.70 L631.57,430.70 L631.93,407.30 L632.28,430.70 L643.51,430.69 L646.51,430.54 L648.32,430.11 L650.92,428.85 L652.10,428.40 L653.44,428.08 L654.86,427.92 L656.51,427.98 L659.90,428.45 L661.79,428.62 L668.57,428.69 L671.01,428.54 L673.85,427.81 L674.87,427.70 L675.82,427.83 L678.18,428.47 L679.68,428.65 L691.19,428.66 L692.05,428.53 L692.68,428.27 L693.31,427.82 L694.57,426.67 L695.28,426.40 L695.99,426.67 L697.33,427.89 L697.96,428.31 L698.67,428.57 L699.70,428.68 L727.91,428.66 L735.31,428.53 L740.12,428.33 L740.83,428.13 L741.30,427.77 L741.70,427.17 L742.09,426.17 L742.72,423.45 L743.98,415.90 L744.30,414.76 L744.61,414.34 L744.77,414.43 L744.93,414.72 L745.24,415.83 L746.50,423.24 L747.06,425.64 L747.37,426.53 L747.76,427.23 L748.16,427.59 L748.63,427.76 L749.18,427.72 L749.66,427.52 L750.13,427.10 L750.52,426.50 L751.23,424.72 L752.57,420.05 L752.97,419.22 L753.28,419.00 L753.60,419.20 L753.99,419.99 L755.25,424.32 L755.88,425.99 L756.20,426.54 L756.59,426.99 L756.98,427.24 L757.38,427.32 L757.93,427.26 L758.48,427.05 L760.53,425.55 L761.00,425.32 L761.40,425.24 L761.79,425.29 L762.26,425.49 L764.39,427.09 L764.94,427.25 L765.42,427.19 L765.89,426.90 L766.36,426.35 L767.94,423.56 L768.25,423.24 L768.57,423.14 L768.88,423.28 L769.20,423.63 L770.85,426.75 L771.33,427.35 L771.80,427.70 L772.35,427.84 L772.90,427.74 L774.64,426.57 L775.34,426.41 L775.98,426.69 L777.16,427.69 L777.79,428.09 L778.58,428.36 L779.68,428.48 L785.98,428.63 L794.89,428.69 L871.80,428.70" fill="none" stroke="#1a1a1a" stroke-width="1.3" stroke-linejoin="round" stroke-linecap="round"/>
<path d="M622.00,548.70 L632.28,548.70 L632.64,532.10 L632.99,548.70 L643.51,548.68 L646.19,548.59 L648.00,548.36 L649.34,547.98 L652.89,546.61 L654.23,546.30 L655.65,546.15 L657.38,546.18 L662.42,546.63 L667.39,546.69 L669.52,546.56 L672.27,545.99 L673.30,545.90 L674.24,546.00 L676.61,546.52 L678.03,546.66 L688.51,546.66 L689.30,546.53 L689.93,546.27 L690.56,545.82 L691.82,544.67 L692.53,544.40 L693.24,544.67 L694.57,545.89 L695.21,546.31 L695.91,546.57 L696.94,546.68 L727.12,546.67 L734.84,546.55 L738.70,546.37 L739.25,546.17 L739.73,545.73 L740.12,544.98 L740.44,543.98 L741.07,540.70 L742.17,532.79 L742.49,531.36 L742.64,530.97 L742.80,530.84 L742.96,530.96 L743.12,531.32 L743.43,532.72 L744.53,540.52 L745.16,543.74 L745.48,544.70 L745.87,545.42 L746.27,545.77 L746.82,545.94 L747.76,545.92 L748.55,545.71 L749.03,545.37 L749.50,544.71 L749.89,543.82 L750.29,542.57 L751.63,537.17 L751.94,536.41 L752.26,536.14 L752.57,536.38 L752.97,537.36 L754.15,542.12 L754.78,544.02 L755.09,544.62 L755.49,545.10 L755.96,545.40 L756.51,545.53 L757.46,545.48 L758.32,545.22 L759.03,544.80 L760.53,543.59 L760.92,543.40 L761.32,543.33 L761.71,543.42 L762.11,543.63 L763.60,544.90 L764.31,545.35 L765.18,545.59 L765.89,545.50 L766.44,545.15 L766.91,544.54 L768.49,541.07 L768.88,540.51 L769.20,540.38 L769.51,540.55 L769.91,541.15 L771.48,544.80 L771.96,545.46 L772.43,545.84 L773.14,546.04 L773.85,545.92 L774.48,545.55 L775.66,544.56 L776.29,544.35 L776.92,544.62 L778.10,545.72 L778.65,546.10 L779.36,546.37 L780.31,546.49 L786.30,546.63 L795.12,546.69 L871.80,546.70" fill="none" stroke="#1a1a1a" stroke-width="1.3" stroke-linejoin="round" stroke-linecap="round"/>
<path d="M736.5,167.3 C722,167.3 708,168.5 702.3,171.5 Q700.8,172.3 700.8,174.5 L700.8,345.5 C700.8,350.3 698,350.9 691,352.0 C682,353.4 673,354 663.9,354.1 C673,354.2 682,354.8 691,356.2 C698,357.3 700.8,357.9 700.8,362.7 L700.8,532.5 Q700.8,535 702.3,535.6 C708,538.8 722,540.4 736.5,540.5" fill="none" stroke="#5d412b" stroke-width="1.05" stroke-linejoin="round" stroke-linecap="round"/>
<line x1="911.40" y1="361.30" x2="911.40" y2="435.30" stroke="#1a1a1a" stroke-width="1.3"/>
<line x1="907.40" y1="434.90" x2="1230.20" y2="434.90" stroke="#1a1a1a" stroke-width="1.3"/>
<line x1="911.40" y1="434.90" x2="911.40" y2="439.40" stroke="#1a1a1a" stroke-width="1.2"/>
<line x1="915.64" y1="434.90" x2="915.64" y2="437.20" stroke="#1a1a1a" stroke-width="1.1"/>
<line x1="919.89" y1="434.90" x2="919.89" y2="437.20" stroke="#1a1a1a" stroke-width="1.1"/>
<line x1="924.13" y1="434.90" x2="924.13" y2="437.20" stroke="#1a1a1a" stroke-width="1.1"/>
<line x1="928.38" y1="434.90" x2="928.38" y2="437.20" stroke="#1a1a1a" stroke-width="1.1"/>
<line x1="932.62" y1="434.90" x2="932.62" y2="439.40" stroke="#1a1a1a" stroke-width="1.2"/>
<line x1="936.86" y1="434.90" x2="936.86" y2="437.20" stroke="#1a1a1a" stroke-width="1.1"/>
<line x1="941.11" y1="434.90" x2="941.11" y2="437.20" stroke="#1a1a1a" stroke-width="1.1"/>
<line x1="945.35" y1="434.90" x2="945.35" y2="437.20" stroke="#1a1a1a" stroke-width="1.1"/>
<line x1="949.60" y1="434.90" x2="949.60" y2="437.20" stroke="#1a1a1a" stroke-width="1.1"/>
<line x1="953.84" y1="434.90" x2="953.84" y2="439.40" stroke="#1a1a1a" stroke-width="1.2"/>
<line x1="958.08" y1="434.90" x2="958.08" y2="437.20" stroke="#1a1a1a" stroke-width="1.1"/>
<line x1="962.33" y1="434.90" x2="962.33" y2="437.20" stroke="#1a1a1a" stroke-width="1.1"/>
<line x1="966.57" y1="434.90" x2="966.57" y2="437.20" stroke="#1a1a1a" stroke-width="1.1"/>
<line x1="970.82" y1="434.90" x2="970.82" y2="437.20" stroke="#1a1a1a" stroke-width="1.1"/>
<line x1="975.06" y1="434.90" x2="975.06" y2="439.40" stroke="#1a1a1a" stroke-width="1.2"/>
<line x1="979.30" y1="434.90" x2="979.30" y2="437.20" stroke="#1a1a1a" stroke-width="1.1"/>
<line x1="983.55" y1="434.90" x2="983.55" y2="437.20" stroke="#1a1a1a" stroke-width="1.1"/>
<line x1="987.79" y1="434.90" x2="987.79" y2="437.20" stroke="#1a1a1a" stroke-width="1.1"/>
<line x1="992.04" y1="434.90" x2="992.04" y2="437.20" stroke="#1a1a1a" stroke-width="1.1"/>
<line x1="996.28" y1="434.90" x2="996.28" y2="439.40" stroke="#1a1a1a" stroke-width="1.2"/>
<line x1="1000.52" y1="434.90" x2="1000.52" y2="437.20" stroke="#1a1a1a" stroke-width="1.1"/>
<line x1="1004.77" y1="434.90" x2="1004.77" y2="437.20" stroke="#1a1a1a" stroke-width="1.1"/>
<line x1="1009.01" y1="434.90" x2="1009.01" y2="437.20" stroke="#1a1a1a" stroke-width="1.1"/>
<line x1="1013.26" y1="434.90" x2="1013.26" y2="437.20" stroke="#1a1a1a" stroke-width="1.1"/>
<line x1="1017.50" y1="434.90" x2="1017.50" y2="439.40" stroke="#1a1a1a" stroke-width="1.2"/>
<line x1="1021.74" y1="434.90" x2="1021.74" y2="437.20" stroke="#1a1a1a" stroke-width="1.1"/>
<line x1="1025.99" y1="434.90" x2="1025.99" y2="437.20" stroke="#1a1a1a" stroke-width="1.1"/>
<line x1="1030.23" y1="434.90" x2="1030.23" y2="437.20" stroke="#1a1a1a" stroke-width="1.1"/>
<line x1="1034.48" y1="434.90" x2="1034.48" y2="437.20" stroke="#1a1a1a" stroke-width="1.1"/>
<line x1="1038.72" y1="434.90" x2="1038.72" y2="439.40" stroke="#1a1a1a" stroke-width="1.2"/>
<line x1="1042.96" y1="434.90" x2="1042.96" y2="437.20" stroke="#1a1a1a" stroke-width="1.1"/>
<line x1="1047.21" y1="434.90" x2="1047.21" y2="437.20" stroke="#1a1a1a" stroke-width="1.1"/>
<line x1="1051.45" y1="434.90" x2="1051.45" y2="437.20" stroke="#1a1a1a" stroke-width="1.1"/>
<line x1="1055.70" y1="434.90" x2="1055.70" y2="437.20" stroke="#1a1a1a" stroke-width="1.1"/>
<line x1="1059.94" y1="434.90" x2="1059.94" y2="439.40" stroke="#1a1a1a" stroke-width="1.2"/>
<line x1="1064.18" y1="434.90" x2="1064.18" y2="437.20" stroke="#1a1a1a" stroke-width="1.1"/>
<line x1="1068.43" y1="434.90" x2="1068.43" y2="437.20" stroke="#1a1a1a" stroke-width="1.1"/>
<line x1="1072.67" y1="434.90" x2="1072.67" y2="437.20" stroke="#1a1a1a" stroke-width="1.1"/>
<line x1="1076.92" y1="434.90" x2="1076.92" y2="437.20" stroke="#1a1a1a" stroke-width="1.1"/>
<line x1="1081.16" y1="434.90" x2="1081.16" y2="439.40" stroke="#1a1a1a" stroke-width="1.2"/>
<line x1="1085.40" y1="434.90" x2="1085.40" y2="437.20" stroke="#1a1a1a" stroke-width="1.1"/>
<line x1="1089.65" y1="434.90" x2="1089.65" y2="437.20" stroke="#1a1a1a" stroke-width="1.1"/>
<line x1="1093.89" y1="434.90" x2="1093.89" y2="437.20" stroke="#1a1a1a" stroke-width="1.1"/>
<line x1="1098.14" y1="434.90" x2="1098.14" y2="437.20" stroke="#1a1a1a" stroke-width="1.1"/>
<line x1="1102.38" y1="434.90" x2="1102.38" y2="439.40" stroke="#1a1a1a" stroke-width="1.2"/>
<line x1="1106.62" y1="434.90" x2="1106.62" y2="437.20" stroke="#1a1a1a" stroke-width="1.1"/>
<line x1="1110.87" y1="434.90" x2="1110.87" y2="437.20" stroke="#1a1a1a" stroke-width="1.1"/>
<line x1="1115.11" y1="434.90" x2="1115.11" y2="437.20" stroke="#1a1a1a" stroke-width="1.1"/>
<line x1="1119.36" y1="434.90" x2="1119.36" y2="437.20" stroke="#1a1a1a" stroke-width="1.1"/>
<line x1="1123.60" y1="434.90" x2="1123.60" y2="439.40" stroke="#1a1a1a" stroke-width="1.2"/>
<line x1="1127.84" y1="434.90" x2="1127.84" y2="437.20" stroke="#1a1a1a" stroke-width="1.1"/>
<line x1="1132.09" y1="434.90" x2="1132.09" y2="437.20" stroke="#1a1a1a" stroke-width="1.1"/>
<line x1="1136.33" y1="434.90" x2="1136.33" y2="437.20" stroke="#1a1a1a" stroke-width="1.1"/>
<line x1="1140.58" y1="434.90" x2="1140.58" y2="437.20" stroke="#1a1a1a" stroke-width="1.1"/>
<line x1="1144.82" y1="434.90" x2="1144.82" y2="439.40" stroke="#1a1a1a" stroke-width="1.2"/>
<line x1="1149.06" y1="434.90" x2="1149.06" y2="437.20" stroke="#1a1a1a" stroke-width="1.1"/>
<line x1="1153.31" y1="434.90" x2="1153.31" y2="437.20" stroke="#1a1a1a" stroke-width="1.1"/>
<line x1="1157.55" y1="434.90" x2="1157.55" y2="437.20" stroke="#1a1a1a" stroke-width="1.1"/>
<line x1="1161.80" y1="434.90" x2="1161.80" y2="437.20" stroke="#1a1a1a" stroke-width="1.1"/>
<line x1="1166.04" y1="434.90" x2="1166.04" y2="439.40" stroke="#1a1a1a" stroke-width="1.2"/>
<line x1="1170.28" y1="434.90" x2="1170.28" y2="437.20" stroke="#1a1a1a" stroke-width="1.1"/>
<line x1="1174.53" y1="434.90" x2="1174.53" y2="437.20" stroke="#1a1a1a" stroke-width="1.1"/>
<line x1="1178.77" y1="434.90" x2="1178.77" y2="437.20" stroke="#1a1a1a" stroke-width="1.1"/>
<line x1="1183.02" y1="434.90" x2="1183.02" y2="437.20" stroke="#1a1a1a" stroke-width="1.1"/>
<line x1="1187.26" y1="434.90" x2="1187.26" y2="439.40" stroke="#1a1a1a" stroke-width="1.2"/>
<line x1="1191.50" y1="434.90" x2="1191.50" y2="437.20" stroke="#1a1a1a" stroke-width="1.1"/>
<line x1="1195.75" y1="434.90" x2="1195.75" y2="437.20" stroke="#1a1a1a" stroke-width="1.1"/>
<line x1="1199.99" y1="434.90" x2="1199.99" y2="437.20" stroke="#1a1a1a" stroke-width="1.1"/>
<line x1="1204.24" y1="434.90" x2="1204.24" y2="437.20" stroke="#1a1a1a" stroke-width="1.1"/>
<line x1="1208.48" y1="434.90" x2="1208.48" y2="439.40" stroke="#1a1a1a" stroke-width="1.2"/>
<line x1="1212.72" y1="434.90" x2="1212.72" y2="437.20" stroke="#1a1a1a" stroke-width="1.1"/>
<line x1="1216.97" y1="434.90" x2="1216.97" y2="437.20" stroke="#1a1a1a" stroke-width="1.1"/>
<line x1="1221.21" y1="434.90" x2="1221.21" y2="437.20" stroke="#1a1a1a" stroke-width="1.1"/>
<line x1="1225.46" y1="434.90" x2="1225.46" y2="437.20" stroke="#1a1a1a" stroke-width="1.1"/>
<line x1="1229.70" y1="434.90" x2="1229.70" y2="439.40" stroke="#1a1a1a" stroke-width="1.2"/>
<text x="924.55" y="447.90" font-size="9.72" fill="#1a1a1a" stroke="#1a1a1a" textLength="19.54" lengthAdjust="spacingAndGlyphs">8.00</text>
<text x="965.96" y="447.90" font-size="9.72" fill="#1a1a1a" stroke="#1a1a1a" textLength="25.01" lengthAdjust="spacingAndGlyphs">10.00</text>
<text x="1008.40" y="447.90" font-size="9.72" fill="#1a1a1a" stroke="#1a1a1a" textLength="25.01" lengthAdjust="spacingAndGlyphs">12.00</text>
<text x="1050.84" y="447.90" font-size="9.72" fill="#1a1a1a" stroke="#1a1a1a" textLength="25.01" lengthAdjust="spacingAndGlyphs">14.00</text>
<text x="1093.28" y="447.90" font-size="9.72" fill="#1a1a1a" stroke="#1a1a1a" textLength="25.01" lengthAdjust="spacingAndGlyphs">16.00</text>
<text x="1135.72" y="447.90" font-size="9.72" fill="#1a1a1a" stroke="#1a1a1a" textLength="25.01" lengthAdjust="spacingAndGlyphs">18.00</text>
<text x="1178.16" y="447.90" font-size="9.72" fill="#1a1a1a" stroke="#1a1a1a" textLength="25.01" lengthAdjust="spacingAndGlyphs">20.00</text>
<text x="1220.60" y="447.90" font-size="9.72" fill="#1a1a1a" stroke="#1a1a1a" textLength="25.01" lengthAdjust="spacingAndGlyphs">22.00</text>
<line x1="909.00" y1="432.30" x2="911.40" y2="432.30" stroke="#1a1a1a" stroke-width="1.0"/>
<line x1="909.00" y1="429.70" x2="911.40" y2="429.70" stroke="#1a1a1a" stroke-width="1.0"/>
<line x1="907.00" y1="427.10" x2="911.40" y2="427.10" stroke="#1a1a1a" stroke-width="1.1"/>
<line x1="909.00" y1="424.50" x2="911.40" y2="424.50" stroke="#1a1a1a" stroke-width="1.0"/>
<line x1="909.00" y1="421.90" x2="911.40" y2="421.90" stroke="#1a1a1a" stroke-width="1.0"/>
<line x1="909.00" y1="419.30" x2="911.40" y2="419.30" stroke="#1a1a1a" stroke-width="1.0"/>
<line x1="909.00" y1="416.70" x2="911.40" y2="416.70" stroke="#1a1a1a" stroke-width="1.0"/>
<line x1="909.00" y1="414.10" x2="911.40" y2="414.10" stroke="#1a1a1a" stroke-width="1.0"/>
<line x1="909.00" y1="411.50" x2="911.40" y2="411.50" stroke="#1a1a1a" stroke-width="1.0"/>
<line x1="907.00" y1="408.90" x2="911.40" y2="408.90" stroke="#1a1a1a" stroke-width="1.1"/>
<line x1="909.00" y1="406.30" x2="911.40" y2="406.30" stroke="#1a1a1a" stroke-width="1.0"/>
<line x1="909.00" y1="403.70" x2="911.40" y2="403.70" stroke="#1a1a1a" stroke-width="1.0"/>
<line x1="909.00" y1="401.10" x2="911.40" y2="401.10" stroke="#1a1a1a" stroke-width="1.0"/>
<line x1="909.00" y1="398.50" x2="911.40" y2="398.50" stroke="#1a1a1a" stroke-width="1.0"/>
<line x1="909.00" y1="395.90" x2="911.40" y2="395.90" stroke="#1a1a1a" stroke-width="1.0"/>
<line x1="909.00" y1="393.30" x2="911.40" y2="393.30" stroke="#1a1a1a" stroke-width="1.0"/>
<line x1="907.00" y1="390.70" x2="911.40" y2="390.70" stroke="#1a1a1a" stroke-width="1.1"/>
<line x1="909.00" y1="388.10" x2="911.40" y2="388.10" stroke="#1a1a1a" stroke-width="1.0"/>
<line x1="909.00" y1="385.50" x2="911.40" y2="385.50" stroke="#1a1a1a" stroke-width="1.0"/>
<line x1="909.00" y1="382.90" x2="911.40" y2="382.90" stroke="#1a1a1a" stroke-width="1.0"/>
<line x1="909.00" y1="380.30" x2="911.40" y2="380.30" stroke="#1a1a1a" stroke-width="1.0"/>
<line x1="909.00" y1="377.70" x2="911.40" y2="377.70" stroke="#1a1a1a" stroke-width="1.0"/>
<line x1="909.00" y1="375.10" x2="911.40" y2="375.10" stroke="#1a1a1a" stroke-width="1.0"/>
<line x1="907.00" y1="372.50" x2="911.40" y2="372.50" stroke="#1a1a1a" stroke-width="1.1"/>
<line x1="909.00" y1="369.90" x2="911.40" y2="369.90" stroke="#1a1a1a" stroke-width="1.0"/>
<line x1="909.00" y1="367.30" x2="911.40" y2="367.30" stroke="#1a1a1a" stroke-width="1.0"/>
<line x1="909.00" y1="364.70" x2="911.40" y2="364.70" stroke="#1a1a1a" stroke-width="1.0"/>
<line x1="909.00" y1="362.10" x2="911.40" y2="362.10" stroke="#1a1a1a" stroke-width="1.0"/>
<text x="877.43" y="375.80" font-size="9.72" fill="#1a1a1a" stroke="#1a1a1a" textLength="28.57" lengthAdjust="spacingAndGlyphs">1.0e-1</text>
<text x="877.43" y="412.20" font-size="9.72" fill="#1a1a1a" stroke="#1a1a1a" textLength="28.57" lengthAdjust="spacingAndGlyphs">5.0e-2</text>
<line x1="911.40" y1="477.60" x2="911.40" y2="550.90" stroke="#1a1a1a" stroke-width="1.3"/>
<line x1="907.40" y1="550.50" x2="1230.20" y2="550.50" stroke="#1a1a1a" stroke-width="1.3"/>
<line x1="911.40" y1="550.50" x2="911.40" y2="555.00" stroke="#1a1a1a" stroke-width="1.2"/>
<line x1="915.64" y1="550.50" x2="915.64" y2="552.80" stroke="#1a1a1a" stroke-width="1.1"/>
<line x1="919.89" y1="550.50" x2="919.89" y2="552.80" stroke="#1a1a1a" stroke-width="1.1"/>
<line x1="924.13" y1="550.50" x2="924.13" y2="552.80" stroke="#1a1a1a" stroke-width="1.1"/>
<line x1="928.38" y1="550.50" x2="928.38" y2="552.80" stroke="#1a1a1a" stroke-width="1.1"/>
<line x1="932.62" y1="550.50" x2="932.62" y2="555.00" stroke="#1a1a1a" stroke-width="1.2"/>
<line x1="936.86" y1="550.50" x2="936.86" y2="552.80" stroke="#1a1a1a" stroke-width="1.1"/>
<line x1="941.11" y1="550.50" x2="941.11" y2="552.80" stroke="#1a1a1a" stroke-width="1.1"/>
<line x1="945.35" y1="550.50" x2="945.35" y2="552.80" stroke="#1a1a1a" stroke-width="1.1"/>
<line x1="949.60" y1="550.50" x2="949.60" y2="552.80" stroke="#1a1a1a" stroke-width="1.1"/>
<line x1="953.84" y1="550.50" x2="953.84" y2="555.00" stroke="#1a1a1a" stroke-width="1.2"/>
<line x1="958.08" y1="550.50" x2="958.08" y2="552.80" stroke="#1a1a1a" stroke-width="1.1"/>
<line x1="962.33" y1="550.50" x2="962.33" y2="552.80" stroke="#1a1a1a" stroke-width="1.1"/>
<line x1="966.57" y1="550.50" x2="966.57" y2="552.80" stroke="#1a1a1a" stroke-width="1.1"/>
<line x1="970.82" y1="550.50" x2="970.82" y2="552.80" stroke="#1a1a1a" stroke-width="1.1"/>
<line x1="975.06" y1="550.50" x2="975.06" y2="555.00" stroke="#1a1a1a" stroke-width="1.2"/>
<line x1="979.30" y1="550.50" x2="979.30" y2="552.80" stroke="#1a1a1a" stroke-width="1.1"/>
<line x1="983.55" y1="550.50" x2="983.55" y2="552.80" stroke="#1a1a1a" stroke-width="1.1"/>
<line x1="987.79" y1="550.50" x2="987.79" y2="552.80" stroke="#1a1a1a" stroke-width="1.1"/>
<line x1="992.04" y1="550.50" x2="992.04" y2="552.80" stroke="#1a1a1a" stroke-width="1.1"/>
<line x1="996.28" y1="550.50" x2="996.28" y2="555.00" stroke="#1a1a1a" stroke-width="1.2"/>
<line x1="1000.52" y1="550.50" x2="1000.52" y2="552.80" stroke="#1a1a1a" stroke-width="1.1"/>
<line x1="1004.77" y1="550.50" x2="1004.77" y2="552.80" stroke="#1a1a1a" stroke-width="1.1"/>
<line x1="1009.01" y1="550.50" x2="1009.01" y2="552.80" stroke="#1a1a1a" stroke-width="1.1"/>
<line x1="1013.26" y1="550.50" x2="1013.26" y2="552.80" stroke="#1a1a1a" stroke-width="1.1"/>
<line x1="1017.50" y1="550.50" x2="1017.50" y2="555.00" stroke="#1a1a1a" stroke-width="1.2"/>
<line x1="1021.74" y1="550.50" x2="1021.74" y2="552.80" stroke="#1a1a1a" stroke-width="1.1"/>
<line x1="1025.99" y1="550.50" x2="1025.99" y2="552.80" stroke="#1a1a1a" stroke-width="1.1"/>
<line x1="1030.23" y1="550.50" x2="1030.23" y2="552.80" stroke="#1a1a1a" stroke-width="1.1"/>
<line x1="1034.48" y1="550.50" x2="1034.48" y2="552.80" stroke="#1a1a1a" stroke-width="1.1"/>
<line x1="1038.72" y1="550.50" x2="1038.72" y2="555.00" stroke="#1a1a1a" stroke-width="1.2"/>
<line x1="1042.96" y1="550.50" x2="1042.96" y2="552.80" stroke="#1a1a1a" stroke-width="1.1"/>
<line x1="1047.21" y1="550.50" x2="1047.21" y2="552.80" stroke="#1a1a1a" stroke-width="1.1"/>
<line x1="1051.45" y1="550.50" x2="1051.45" y2="552.80" stroke="#1a1a1a" stroke-width="1.1"/>
<line x1="1055.70" y1="550.50" x2="1055.70" y2="552.80" stroke="#1a1a1a" stroke-width="1.1"/>
<line x1="1059.94" y1="550.50" x2="1059.94" y2="555.00" stroke="#1a1a1a" stroke-width="1.2"/>
<line x1="1064.18" y1="550.50" x2="1064.18" y2="552.80" stroke="#1a1a1a" stroke-width="1.1"/>
<line x1="1068.43" y1="550.50" x2="1068.43" y2="552.80" stroke="#1a1a1a" stroke-width="1.1"/>
<line x1="1072.67" y1="550.50" x2="1072.67" y2="552.80" stroke="#1a1a1a" stroke-width="1.1"/>
<line x1="1076.92" y1="550.50" x2="1076.92" y2="552.80" stroke="#1a1a1a" stroke-width="1.1"/>
<line x1="1081.16" y1="550.50" x2="1081.16" y2="555.00" stroke="#1a1a1a" stroke-width="1.2"/>
<line x1="1085.40" y1="550.50" x2="1085.40" y2="552.80" stroke="#1a1a1a" stroke-width="1.1"/>
<line x1="1089.65" y1="550.50" x2="1089.65" y2="552.80" stroke="#1a1a1a" stroke-width="1.1"/>
<line x1="1093.89" y1="550.50" x2="1093.89" y2="552.80" stroke="#1a1a1a" stroke-width="1.1"/>
<line x1="1098.14" y1="550.50" x2="1098.14" y2="552.80" stroke="#1a1a1a" stroke-width="1.1"/>
<line x1="1102.38" y1="550.50" x2="1102.38" y2="555.00" stroke="#1a1a1a" stroke-width="1.2"/>
<line x1="1106.62" y1="550.50" x2="1106.62" y2="552.80" stroke="#1a1a1a" stroke-width="1.1"/>
<line x1="1110.87" y1="550.50" x2="1110.87" y2="552.80" stroke="#1a1a1a" stroke-width="1.1"/>
<line x1="1115.11" y1="550.50" x2="1115.11" y2="552.80" stroke="#1a1a1a" stroke-width="1.1"/>
<line x1="1119.36" y1="550.50" x2="1119.36" y2="552.80" stroke="#1a1a1a" stroke-width="1.1"/>
<line x1="1123.60" y1="550.50" x2="1123.60" y2="555.00" stroke="#1a1a1a" stroke-width="1.2"/>
<line x1="1127.84" y1="550.50" x2="1127.84" y2="552.80" stroke="#1a1a1a" stroke-width="1.1"/>
<line x1="1132.09" y1="550.50" x2="1132.09" y2="552.80" stroke="#1a1a1a" stroke-width="1.1"/>
<line x1="1136.33" y1="550.50" x2="1136.33" y2="552.80" stroke="#1a1a1a" stroke-width="1.1"/>
<line x1="1140.58" y1="550.50" x2="1140.58" y2="552.80" stroke="#1a1a1a" stroke-width="1.1"/>
<line x1="1144.82" y1="550.50" x2="1144.82" y2="555.00" stroke="#1a1a1a" stroke-width="1.2"/>
<line x1="1149.06" y1="550.50" x2="1149.06" y2="552.80" stroke="#1a1a1a" stroke-width="1.1"/>
<line x1="1153.31" y1="550.50" x2="1153.31" y2="552.80" stroke="#1a1a1a" stroke-width="1.1"/>
<line x1="1157.55" y1="550.50" x2="1157.55" y2="552.80" stroke="#1a1a1a" stroke-width="1.1"/>
<line x1="1161.80" y1="550.50" x2="1161.80" y2="552.80" stroke="#1a1a1a" stroke-width="1.1"/>
<line x1="1166.04" y1="550.50" x2="1166.04" y2="555.00" stroke="#1a1a1a" stroke-width="1.2"/>
<line x1="1170.28" y1="550.50" x2="1170.28" y2="552.80" stroke="#1a1a1a" stroke-width="1.1"/>
<line x1="1174.53" y1="550.50" x2="1174.53" y2="552.80" stroke="#1a1a1a" stroke-width="1.1"/>
<line x1="1178.77" y1="550.50" x2="1178.77" y2="552.80" stroke="#1a1a1a" stroke-width="1.1"/>
<line x1="1183.02" y1="550.50" x2="1183.02" y2="552.80" stroke="#1a1a1a" stroke-width="1.1"/>
<line x1="1187.26" y1="550.50" x2="1187.26" y2="555.00" stroke="#1a1a1a" stroke-width="1.2"/>
<line x1="1191.50" y1="550.50" x2="1191.50" y2="552.80" stroke="#1a1a1a" stroke-width="1.1"/>
<line x1="1195.75" y1="550.50" x2="1195.75" y2="552.80" stroke="#1a1a1a" stroke-width="1.1"/>
<line x1="1199.99" y1="550.50" x2="1199.99" y2="552.80" stroke="#1a1a1a" stroke-width="1.1"/>
<line x1="1204.24" y1="550.50" x2="1204.24" y2="552.80" stroke="#1a1a1a" stroke-width="1.1"/>
<line x1="1208.48" y1="550.50" x2="1208.48" y2="555.00" stroke="#1a1a1a" stroke-width="1.2"/>
<line x1="1212.72" y1="550.50" x2="1212.72" y2="552.80" stroke="#1a1a1a" stroke-width="1.1"/>
<line x1="1216.97" y1="550.50" x2="1216.97" y2="552.80" stroke="#1a1a1a" stroke-width="1.1"/>
<line x1="1221.21" y1="550.50" x2="1221.21" y2="552.80" stroke="#1a1a1a" stroke-width="1.1"/>
<line x1="1225.46" y1="550.50" x2="1225.46" y2="552.80" stroke="#1a1a1a" stroke-width="1.1"/>
<line x1="1229.70" y1="550.50" x2="1229.70" y2="555.00" stroke="#1a1a1a" stroke-width="1.2"/>
<text x="924.55" y="563.50" font-size="9.72" fill="#1a1a1a" stroke="#1a1a1a" textLength="19.54" lengthAdjust="spacingAndGlyphs">8.00</text>
<text x="965.96" y="563.50" font-size="9.72" fill="#1a1a1a" stroke="#1a1a1a" textLength="25.01" lengthAdjust="spacingAndGlyphs">10.00</text>
<text x="1008.40" y="563.50" font-size="9.72" fill="#1a1a1a" stroke="#1a1a1a" textLength="25.01" lengthAdjust="spacingAndGlyphs">12.00</text>
<text x="1050.84" y="563.50" font-size="9.72" fill="#1a1a1a" stroke="#1a1a1a" textLength="25.01" lengthAdjust="spacingAndGlyphs">14.00</text>
<text x="1093.28" y="563.50" font-size="9.72" fill="#1a1a1a" stroke="#1a1a1a" textLength="25.01" lengthAdjust="spacingAndGlyphs">16.00</text>
<text x="1135.72" y="563.50" font-size="9.72" fill="#1a1a1a" stroke="#1a1a1a" textLength="25.01" lengthAdjust="spacingAndGlyphs">18.00</text>
<text x="1178.16" y="563.50" font-size="9.72" fill="#1a1a1a" stroke="#1a1a1a" textLength="25.01" lengthAdjust="spacingAndGlyphs">20.00</text>
<text x="1220.60" y="563.50" font-size="9.72" fill="#1a1a1a" stroke="#1a1a1a" textLength="25.01" lengthAdjust="spacingAndGlyphs">22.00</text>
<line x1="909.00" y1="548.66" x2="911.40" y2="548.66" stroke="#1a1a1a" stroke-width="1.0"/>
<line x1="909.00" y1="546.06" x2="911.40" y2="546.06" stroke="#1a1a1a" stroke-width="1.0"/>
<line x1="907.00" y1="543.45" x2="911.40" y2="543.45" stroke="#1a1a1a" stroke-width="1.1"/>
<line x1="909.00" y1="540.84" x2="911.40" y2="540.84" stroke="#1a1a1a" stroke-width="1.0"/>
<line x1="909.00" y1="538.24" x2="911.40" y2="538.24" stroke="#1a1a1a" stroke-width="1.0"/>
<line x1="909.00" y1="535.63" x2="911.40" y2="535.63" stroke="#1a1a1a" stroke-width="1.0"/>
<line x1="909.00" y1="533.02" x2="911.40" y2="533.02" stroke="#1a1a1a" stroke-width="1.0"/>
<line x1="909.00" y1="530.41" x2="911.40" y2="530.41" stroke="#1a1a1a" stroke-width="1.0"/>
<line x1="909.00" y1="527.81" x2="911.40" y2="527.81" stroke="#1a1a1a" stroke-width="1.0"/>
<line x1="907.00" y1="525.20" x2="911.40" y2="525.20" stroke="#1a1a1a" stroke-width="1.1"/>
<line x1="909.00" y1="522.59" x2="911.40" y2="522.59" stroke="#1a1a1a" stroke-width="1.0"/>
<line x1="909.00" y1="519.99" x2="911.40" y2="519.99" stroke="#1a1a1a" stroke-width="1.0"/>
<line x1="909.00" y1="517.38" x2="911.40" y2="517.38" stroke="#1a1a1a" stroke-width="1.0"/>
<line x1="909.00" y1="514.77" x2="911.40" y2="514.77" stroke="#1a1a1a" stroke-width="1.0"/>
<line x1="909.00" y1="512.16" x2="911.40" y2="512.16" stroke="#1a1a1a" stroke-width="1.0"/>
<line x1="909.00" y1="509.56" x2="911.40" y2="509.56" stroke="#1a1a1a" stroke-width="1.0"/>
<line x1="907.00" y1="506.95" x2="911.40" y2="506.95" stroke="#1a1a1a" stroke-width="1.1"/>
<line x1="909.00" y1="504.34" x2="911.40" y2="504.34" stroke="#1a1a1a" stroke-width="1.0"/>
<line x1="909.00" y1="501.74" x2="911.40" y2="501.74" stroke="#1a1a1a" stroke-width="1.0"/>
<line x1="909.00" y1="499.13" x2="911.40" y2="499.13" stroke="#1a1a1a" stroke-width="1.0"/>
<line x1="909.00" y1="496.52" x2="911.40" y2="496.52" stroke="#1a1a1a" stroke-width="1.0"/>
<line x1="909.00" y1="493.91" x2="911.40" y2="493.91" stroke="#1a1a1a" stroke-width="1.0"/>
<line x1="909.00" y1="491.31" x2="911.40" y2="491.31" stroke="#1a1a1a" stroke-width="1.0"/>
<line x1="907.00" y1="488.70" x2="911.40" y2="488.70" stroke="#1a1a1a" stroke-width="1.1"/>
<line x1="909.00" y1="486.09" x2="911.40" y2="486.09" stroke="#1a1a1a" stroke-width="1.0"/>
<line x1="909.00" y1="483.49" x2="911.40" y2="483.49" stroke="#1a1a1a" stroke-width="1.0"/>
<line x1="909.00" y1="480.88" x2="911.40" y2="480.88" stroke="#1a1a1a" stroke-width="1.0"/>
<line x1="909.00" y1="478.27" x2="911.40" y2="478.27" stroke="#1a1a1a" stroke-width="1.0"/>
<text x="877.43" y="492.00" font-size="9.72" fill="#1a1a1a" stroke="#1a1a1a" textLength="28.57" lengthAdjust="spacingAndGlyphs">1.0e-1</text>
<text x="877.43" y="528.50" font-size="9.72" fill="#1a1a1a" stroke="#1a1a1a" textLength="28.57" lengthAdjust="spacingAndGlyphs">5.0e-2</text>
<text x="1235.60" y="553.70" font-size="9.72" fill="#1a1a1a" stroke="#1a1a1a" textLength="21.15" lengthAdjust="spacingAndGlyphs">Time</text>
<path d="M911.53,431.43 C912.05,431.60 913.26,432.15 914.65,432.47 C916.04,432.78 918.12,433.13 919.85,433.33 C921.58,433.54 921.58,433.62 925.05,433.68 C928.51,433.74 936.60,433.71 940.64,433.68 C944.68,433.65 947.28,433.65 949.30,433.51 C951.32,433.36 951.75,433.28 952.77,432.81 C953.78,432.35 954.50,431.83 955.36,430.73 C956.23,429.64 957.18,427.62 957.96,426.23 C958.74,424.84 959.46,423.28 960.04,422.42 C960.62,421.55 960.97,420.97 961.43,421.03 C961.89,421.09 962.24,421.67 962.81,422.77 C963.39,423.86 964.11,426.23 964.89,427.62 C965.67,429.00 966.48,430.24 967.49,431.08 C968.50,431.92 969.37,432.26 970.96,432.64 C972.54,433.02 973.41,433.16 977.02,433.33 C980.63,433.51 985.68,433.62 992.61,433.68 C999.54,433.74 1008.49,433.74 1018.60,433.68 C1028.71,433.62 1046.35,433.37 1053.25,433.33 C1060.00,433.30 1057.58,433.64 1060.00,433.46 C1062.42,433.29 1065.50,432.59 1067.76,432.30 C1070.03,432.01 1071.65,431.91 1073.59,431.72 C1075.53,431.52 1077.86,431.55 1079.41,431.13 C1080.96,430.71 1081.93,430.26 1082.90,429.19 C1083.87,428.12 1084.52,427.25 1085.23,424.73 C1085.94,422.20 1086.53,419.07 1087.17,414.05 C1087.82,409.04 1088.47,400.47 1089.11,394.64 C1089.76,388.82 1090.51,383.00 1091.06,379.11 C1091.61,375.23 1091.96,373.13 1092.41,371.35 C1092.87,369.57 1093.32,368.28 1093.77,368.44 C1094.23,368.60 1094.61,368.92 1095.13,372.32 C1095.65,375.72 1096.26,382.51 1096.88,388.82 C1097.49,395.13 1098.17,404.83 1098.82,410.17 C1099.47,415.51 1100.05,418.48 1100.76,420.85 C1101.47,423.21 1102.12,423.79 1103.09,424.34 C1104.06,424.89 1105.61,424.89 1106.58,424.15 C1107.55,423.40 1108.20,422.20 1108.91,419.88 C1109.62,417.55 1110.21,413.73 1110.85,410.17 C1111.50,406.61 1112.18,401.50 1112.80,398.52 C1113.41,395.55 1114.02,393.54 1114.54,392.31 C1115.06,391.08 1115.42,390.60 1115.90,391.15 C1116.39,391.70 1116.90,392.77 1117.45,395.61 C1118.00,398.46 1118.59,404.19 1119.20,408.23 C1119.81,412.27 1120.40,417.03 1121.14,419.88 C1121.89,422.72 1122.69,424.34 1123.66,425.31 C1124.64,426.28 1125.77,425.86 1126.96,425.70 C1128.16,425.54 1129.55,425.05 1130.85,424.34 C1132.14,423.63 1133.60,422.17 1134.73,421.43 C1135.86,420.68 1136.83,419.88 1137.64,419.88 C1138.45,419.88 1138.93,420.46 1139.58,421.43 C1140.23,422.40 1140.71,424.50 1141.52,425.70 C1142.33,426.90 1143.30,428.12 1144.43,428.61 C1145.57,429.10 1147.18,428.93 1148.32,428.61 C1149.45,428.29 1150.35,428.12 1151.23,426.67 C1152.10,425.21 1152.81,422.14 1153.56,419.88 C1154.30,417.61 1154.95,414.76 1155.69,413.08 C1156.44,411.40 1157.31,409.78 1158.02,409.78 C1158.73,409.78 1159.25,410.91 1159.96,413.08 C1160.67,415.25 1161.48,420.36 1162.29,422.79 C1163.10,425.21 1163.91,426.57 1164.81,427.64 C1165.72,428.71 1166.75,429.19 1167.73,429.19 C1168.70,429.19 1169.73,428.48 1170.64,427.64 C1171.54,426.80 1172.35,424.95 1173.16,424.15 C1173.97,423.34 1174.71,422.69 1175.49,422.79 C1176.27,422.88 1177.01,423.76 1177.82,424.73 C1178.63,425.70 1179.27,427.58 1180.34,428.61 C1181.41,429.65 1182.61,430.39 1184.22,430.94 C1185.84,431.49 1187.46,431.68 1190.05,431.91 C1192.63,432.14 1195.55,432.17 1199.75,432.30 C1203.96,432.43 1210.17,432.59 1215.28,432.69 C1220.39,432.78 1227.90,432.85 1230.42,432.88" fill="none" stroke="#1a1a1a" stroke-width="1.25" stroke-linejoin="round" stroke-linecap="round"/>
<path d="M911.46,550.05 C914.30,550.05 923.43,550.08 928.54,550.05 C933.66,550.02 939.22,550.05 942.14,549.85 C945.05,549.66 944.98,549.50 946.02,548.88 C947.06,548.27 947.54,547.36 948.35,546.17 C949.16,544.97 950.03,542.99 950.87,541.70 C951.72,540.40 952.65,538.40 953.40,538.40 C954.14,538.40 954.63,540.28 955.34,541.70 C956.05,543.12 956.80,545.71 957.67,546.94 C958.54,548.17 959.29,548.59 960.58,549.08 C961.88,549.56 962.69,549.69 965.44,549.85 C968.19,550.02 968.67,549.98 977.09,550.05 C985.50,550.11 1004.60,550.21 1015.92,550.24 C1027.25,550.28 1037.70,550.28 1045.05,550.24 C1052.39,550.20 1055.89,550.18 1060.00,550.02 C1064.11,549.85 1066.96,549.50 1069.70,549.24 C1072.45,548.98 1074.88,548.85 1076.50,548.46 C1078.12,548.07 1078.54,548.04 1079.41,546.91 C1080.28,545.78 1081.03,544.65 1081.74,541.67 C1082.45,538.69 1083.10,534.39 1083.68,529.05 C1084.26,523.72 1084.72,515.14 1085.23,509.64 C1085.75,504.14 1086.30,499.29 1086.79,496.06 C1087.27,492.82 1087.66,492.89 1088.14,490.23 C1088.63,487.58 1089.21,480.14 1089.70,480.14 C1090.18,480.14 1090.57,484.35 1091.06,490.23 C1091.54,496.12 1092.03,508.03 1092.61,515.47 C1093.19,522.91 1093.84,530.41 1094.55,534.88 C1095.26,539.34 1095.68,540.83 1096.88,542.25 C1098.08,543.67 1100.28,543.35 1101.73,543.42 C1103.19,543.48 1104.55,543.74 1105.61,542.64 C1106.68,541.54 1107.39,540.05 1108.14,536.82 C1108.88,533.58 1109.53,526.79 1110.08,523.23 C1110.63,519.67 1110.98,517.89 1111.44,515.47 C1111.89,513.04 1112.31,510.29 1112.80,508.67 C1113.28,507.05 1113.83,505.28 1114.35,505.76 C1114.87,506.25 1115.32,507.38 1115.90,511.58 C1116.48,515.79 1117.13,525.98 1117.84,530.99 C1118.55,536.01 1119.30,539.50 1120.17,541.67 C1121.04,543.84 1121.63,543.67 1123.08,544.00 C1124.54,544.32 1127.38,543.84 1128.91,543.61 C1130.43,543.38 1131.23,543.38 1132.20,542.64 C1133.18,541.90 1133.82,539.99 1134.73,539.15 C1135.63,538.30 1136.77,537.59 1137.64,537.59 C1138.51,537.59 1139.16,538.14 1139.97,539.15 C1140.78,540.15 1141.59,542.45 1142.49,543.61 C1143.40,544.77 1144.27,545.65 1145.40,546.13 C1146.54,546.62 1147.99,546.78 1149.29,546.52 C1150.58,546.26 1152.10,546.04 1153.17,544.58 C1154.24,543.12 1154.88,540.38 1155.69,537.79 C1156.50,535.20 1157.24,531.03 1158.02,529.05 C1158.80,527.08 1159.64,525.79 1160.35,525.95 C1161.06,526.11 1161.55,527.56 1162.29,530.02 C1163.03,532.48 1163.91,538.11 1164.81,540.70 C1165.72,543.29 1166.59,544.52 1167.73,545.55 C1168.86,546.59 1170.47,546.91 1171.61,546.91 C1172.74,546.91 1173.61,546.42 1174.52,545.55 C1175.42,544.68 1176.23,542.58 1177.04,541.67 C1177.85,540.76 1178.59,540.02 1179.37,540.12 C1180.15,540.21 1180.89,541.18 1181.70,542.25 C1182.51,543.32 1183.16,545.42 1184.22,546.52 C1185.29,547.62 1186.49,548.30 1188.11,548.85 C1189.72,549.40 1191.02,549.63 1193.93,549.82 C1196.84,550.02 1199.59,549.98 1205.57,550.02 C1211.56,550.05 1225.79,550.02 1229.84,550.02" fill="none" stroke="#1a1a1a" stroke-width="1.25" stroke-linejoin="round" stroke-linecap="round"/>
<text x="24.60" y="76.00" font-size="38.00" fill="#1a1a1a" stroke="#1a1a1a" textLength="25.60" lengthAdjust="spacingAndGlyphs" style="stroke-width:0.8px">A</text>
<text x="891.90" y="333.00" font-size="37.00" fill="#1a1a1a" stroke="#1a1a1a" textLength="24.90" lengthAdjust="spacingAndGlyphs" style="stroke-width:0.9px">B</text>
<text x="60.50" y="35.20" font-size="14.00" fill="#1a1a1a" stroke="#1a1a1a" textLength="62.00" lengthAdjust="spacingAndGlyphs">ZIGHILIC</text>
<text x="66.50" y="51.40" font-size="14.00" fill="#1a1a1a" stroke="#1a1a1a" textLength="41.90" lengthAdjust="spacingAndGlyphs">3.5µm</text>
<text x="72.50" y="67.60" font-size="14.00" fill="#1a1a1a" stroke="#1a1a1a" textLength="34.50" lengthAdjust="spacingAndGlyphs">200Å</text>
<text x="69.00" y="144.50" font-size="14.00" fill="#1a1a1a" stroke="#1a1a1a" textLength="29.80" lengthAdjust="spacingAndGlyphs">Halo</text>
<text x="51.50" y="161.20" font-size="14.00" fill="#1a1a1a" stroke="#1a1a1a" textLength="75.10" lengthAdjust="spacingAndGlyphs">PentaHILIC</text>
<text x="62.20" y="177.60" font-size="14.00" fill="#1a1a1a" stroke="#1a1a1a" textLength="42.60" lengthAdjust="spacingAndGlyphs">2.7µm</text>
<text x="72.40" y="193.70" font-size="14.00" fill="#1a1a1a" stroke="#1a1a1a" textLength="26.40" lengthAdjust="spacingAndGlyphs">90Å</text>
<text x="23.00" y="255.60" font-size="14.00" fill="#1a1a1a" stroke="#1a1a1a" textLength="119.50" lengthAdjust="spacingAndGlyphs">PolyGLYCOPLEX A</text>
<text x="66.20" y="271.80" font-size="14.00" fill="#1a1a1a" stroke="#1a1a1a" textLength="30.90" lengthAdjust="spacingAndGlyphs">3 µm</text>
<text x="12.60" y="389.90" font-size="14.00" fill="#1a1a1a" stroke="#1a1a1a" textLength="147.70" lengthAdjust="spacingAndGlyphs">PolyHYDROXYETHYL A</text>
<text x="71.50" y="406.00" font-size="14.00" fill="#1a1a1a" stroke="#1a1a1a" textLength="30.90" lengthAdjust="spacingAndGlyphs">3 µm</text>
<text x="67.60" y="422.10" font-size="14.00" fill="#1a1a1a" stroke="#1a1a1a" textLength="38.60" lengthAdjust="spacingAndGlyphs">300 Å</text>
<text x="28.70" y="505.60" font-size="14.00" fill="#1a1a1a" stroke="#1a1a1a" textLength="119.90" lengthAdjust="spacingAndGlyphs">Zorbax 300 HILIC</text>
<text x="65.00" y="521.80" font-size="14.00" fill="#1a1a1a" stroke="#1a1a1a" textLength="45.60" lengthAdjust="spacingAndGlyphs">1.8 µm</text>
<text x="68.30" y="538.10" font-size="14.00" fill="#1a1a1a" stroke="#1a1a1a" textLength="39.00" lengthAdjust="spacingAndGlyphs">300 Å</text>
<text x="299.20" y="56.60" font-size="14.00" fill="#1a1a1a" stroke="#1a1a1a" textLength="94.70" lengthAdjust="spacingAndGlyphs">Poor Recovery</text>
<text x="370.10" y="339.80" font-size="14.00" fill="#1a1a1a" stroke="#1a1a1a" textLength="29.40" lengthAdjust="spacingAndGlyphs">Poor</text>
<text x="370.10" y="356.20" font-size="14.00" fill="#1a1a1a" stroke="#1a1a1a" textLength="71.40" lengthAdjust="spacingAndGlyphs">Retentivity</text>
<text x="780.10" y="145.00" font-size="14.00" fill="#1a1a1a" stroke="#1a1a1a" textLength="29.40" lengthAdjust="spacingAndGlyphs">Poor</text>
<text x="780.10" y="161.40" font-size="14.00" fill="#1a1a1a" stroke="#1a1a1a" textLength="68.70" lengthAdjust="spacingAndGlyphs">Resolution</text>
<text x="488.90" y="159.60" font-size="14.00" fill="#1a1a1a" stroke="#1a1a1a" textLength="60.90" lengthAdjust="spacingAndGlyphs">Amide80</text>
<text x="501.80" y="176.40" font-size="14.00" fill="#1a1a1a" stroke="#1a1a1a" textLength="32.10" lengthAdjust="spacingAndGlyphs">3 µm</text>
<text x="505.50" y="192.40" font-size="14.00" fill="#1a1a1a" stroke="#1a1a1a" textLength="27.70" lengthAdjust="spacingAndGlyphs">80Å</text>
<text x="469.90" y="277.20" font-size="14.00" fill="#1a1a1a" stroke="#1a1a1a" textLength="101.40" lengthAdjust="spacingAndGlyphs">AccucoreAmide</text>
<text x="497.50" y="294.00" font-size="14.00" fill="#1a1a1a" stroke="#1a1a1a" textLength="42.70" lengthAdjust="spacingAndGlyphs">2.6µm</text>
<text x="505.50" y="310.10" font-size="14.00" fill="#1a1a1a" stroke="#1a1a1a" textLength="34.00" lengthAdjust="spacingAndGlyphs">150Å</text>
<text x="487.70" y="387.00" font-size="14.00" fill="#1a1a1a" stroke="#1a1a1a" textLength="73.30" lengthAdjust="spacingAndGlyphs">BEH Amide</text>
<text x="501.10" y="403.40" font-size="14.00" fill="#1a1a1a" stroke="#1a1a1a" textLength="41.40" lengthAdjust="spacingAndGlyphs">1.7µm</text>
<text x="507.10" y="420.20" font-size="14.00" fill="#1a1a1a" stroke="#1a1a1a" textLength="34.00" lengthAdjust="spacingAndGlyphs">130Å</text>
<text x="490.70" y="505.20" font-size="14.00" fill="#1a1a1a" stroke="#1a1a1a" textLength="73.80" lengthAdjust="spacingAndGlyphs">BEH Amide</text>
<text x="504.20" y="521.70" font-size="14.00" fill="#1a1a1a" stroke="#1a1a1a" textLength="41.70" lengthAdjust="spacingAndGlyphs">1.7µm</text>
<text x="510.10" y="537.80" font-size="14.00" fill="#1a1a1a" stroke="#1a1a1a" textLength="34.10" lengthAdjust="spacingAndGlyphs">300Å</text>
<text x="512.00" y="354.60" font-size="14.00" fill="#6c5038" stroke="#6c5038" textLength="61.50" lengthAdjust="spacingAndGlyphs">Desirable</text>
<text x="579.90" y="354.60" font-size="14.00" fill="#6c5038" stroke="#6c5038" textLength="71.60" lengthAdjust="spacingAndGlyphs">Retentivity</text>
<text x="951.40" y="371.70" font-size="11.40" fill="#1a1a1a" stroke="#1a1a1a" textLength="59.00" lengthAdjust="spacingAndGlyphs">BEH Amide</text>
<text x="960.90" y="384.40" font-size="11.40" fill="#1a1a1a" stroke="#1a1a1a" textLength="37.10" lengthAdjust="spacingAndGlyphs">1.7 µm</text>
<text x="965.30" y="397.60" font-size="11.40" fill="#1a1a1a" stroke="#1a1a1a" textLength="26.90" lengthAdjust="spacingAndGlyphs">130Å</text>
<text x="948.00" y="491.80" font-size="11.40" fill="#1a1a1a" stroke="#1a1a1a" textLength="59.70" lengthAdjust="spacingAndGlyphs">BEH Amide</text>
<text x="960.70" y="505.30" font-size="11.40" fill="#1a1a1a" stroke="#1a1a1a" textLength="36.90" lengthAdjust="spacingAndGlyphs">1.7 µm</text>
<text x="964.40" y="518.40" font-size="11.40" fill="#1a1a1a" stroke="#1a1a1a" textLength="28.30" lengthAdjust="spacingAndGlyphs">300Å</text>
</svg>
</body></html>
